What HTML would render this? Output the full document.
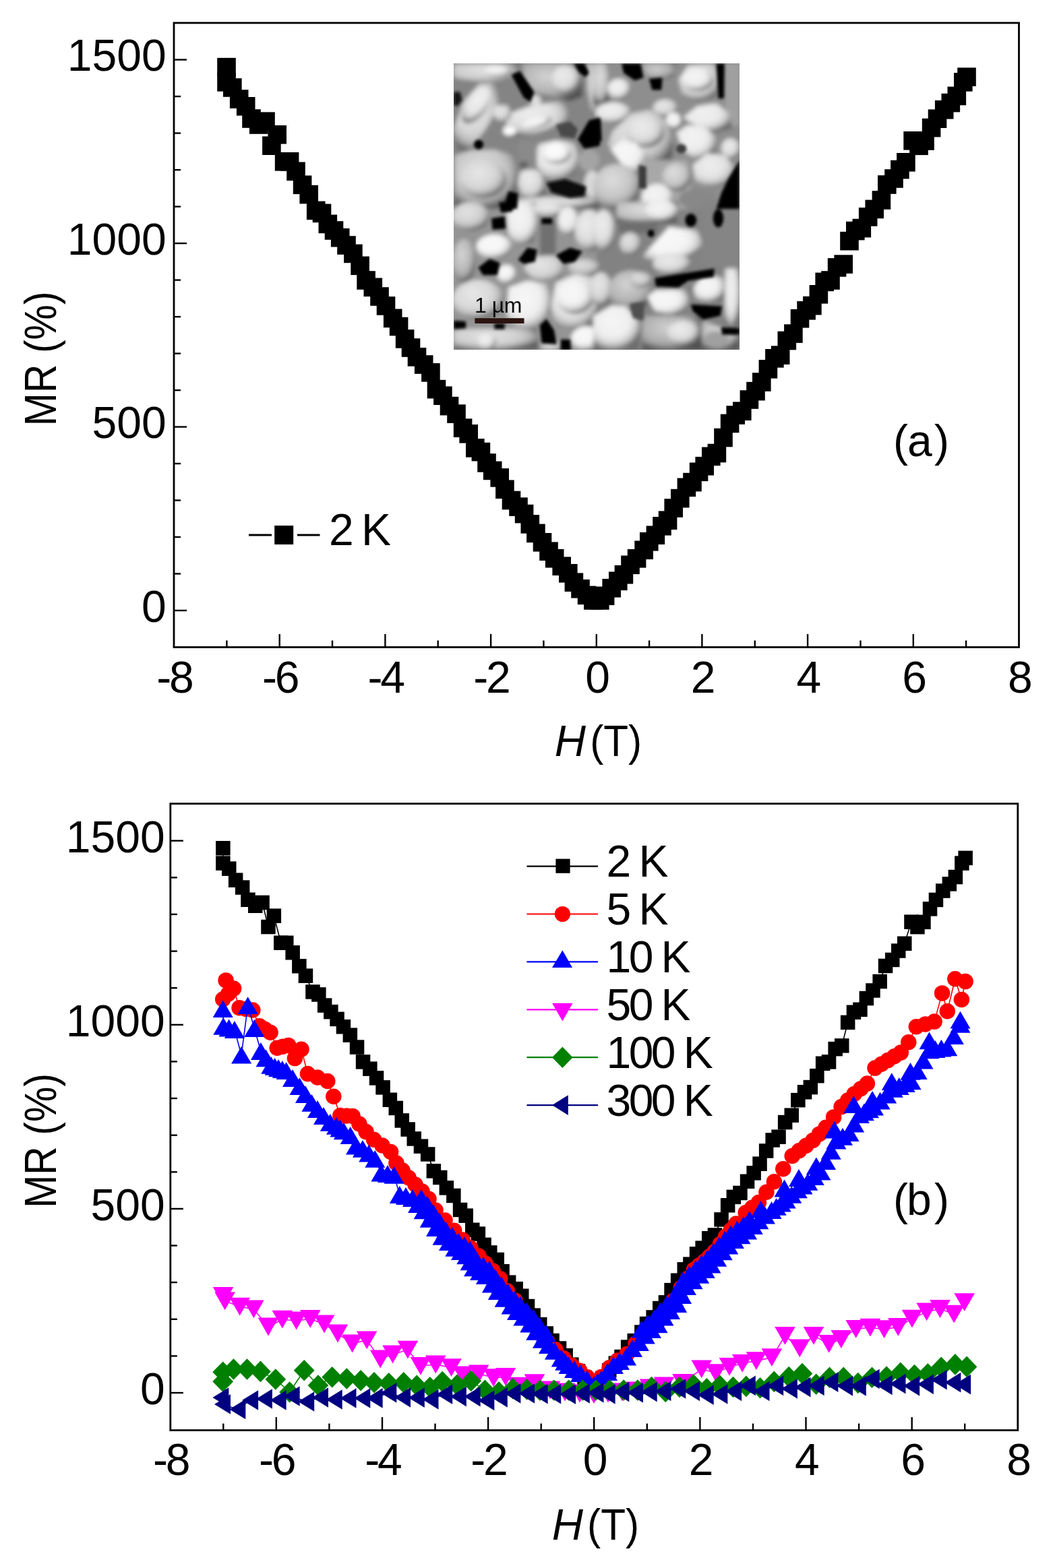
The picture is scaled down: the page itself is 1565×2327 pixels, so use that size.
<!DOCTYPE html>
<html><head><meta charset="utf-8"><title>MR figure</title>
<style>html,body{margin:0;padding:0;background:#fff;overflow:hidden}svg{display:block}</style>
</head><body>
<svg width="1565" height="2327" viewBox="0 0 1565 2327"><rect width="1565" height="2327" fill="#fff"/><g stroke="#000" stroke-width="2.4"><line x1="258" y1="906" x2="277" y2="906"/><line x1="258" y1="851.5" x2="268" y2="851.5"/><line x1="258" y1="797" x2="268" y2="797"/><line x1="258" y1="742.5" x2="268" y2="742.5"/><line x1="258" y1="688" x2="268" y2="688"/><line x1="258" y1="633.5" x2="277" y2="633.5"/><line x1="258" y1="579.1" x2="268" y2="579.1"/><line x1="258" y1="524.6" x2="268" y2="524.6"/><line x1="258" y1="470.1" x2="268" y2="470.1"/><line x1="258" y1="415.6" x2="268" y2="415.6"/><line x1="258" y1="361.1" x2="277" y2="361.1"/><line x1="258" y1="306.6" x2="268" y2="306.6"/><line x1="258" y1="252.1" x2="268" y2="252.1"/><line x1="258" y1="197.6" x2="268" y2="197.6"/><line x1="258" y1="143.1" x2="268" y2="143.1"/><line x1="258" y1="88.6" x2="277" y2="88.6"/><line x1="336.4" y1="960.5" x2="336.4" y2="950.5"/><line x1="414.7" y1="960.5" x2="414.7" y2="941"/><line x1="493" y1="960.5" x2="493" y2="950.5"/><line x1="571.4" y1="960.5" x2="571.4" y2="941"/><line x1="649.7" y1="960.5" x2="649.7" y2="950.5"/><line x1="728.1" y1="960.5" x2="728.1" y2="941"/><line x1="806.4" y1="960.5" x2="806.4" y2="950.5"/><line x1="884.8" y1="960.5" x2="884.8" y2="941"/><line x1="963.1" y1="960.5" x2="963.1" y2="950.5"/><line x1="1041.4" y1="960.5" x2="1041.4" y2="941"/><line x1="1119.8" y1="960.5" x2="1119.8" y2="950.5"/><line x1="1198.1" y1="960.5" x2="1198.1" y2="941"/><line x1="1276.5" y1="960.5" x2="1276.5" y2="950.5"/><line x1="1354.8" y1="960.5" x2="1354.8" y2="941"/><line x1="1433.1" y1="960.5" x2="1433.1" y2="950.5"/></g><rect x="258" y="34" width="1253.5" height="926.5" fill="none" stroke="#000" stroke-width="2.8"/><g font-size="66" fill="#000" style="font-family:'Liberation Sans',Arial,Helvetica,sans-serif"><text x="246.6" y="922.8" text-anchor="end">0</text><text x="246.6" y="650.3" text-anchor="end">500</text><text x="246.6" y="377.9" text-anchor="end">1000</text><text x="246.6" y="105.4" text-anchor="end">1500</text><text x="269.3" y="1027.5" text-anchor="middle">8</text><text x="254.2" y="1027.5" text-anchor="end">-</text><text x="426" y="1027.5" text-anchor="middle">6</text><text x="410.9" y="1027.5" text-anchor="end">-</text><text x="582.7" y="1027.5" text-anchor="middle">4</text><text x="567.6" y="1027.5" text-anchor="end">-</text><text x="739.4" y="1027.5" text-anchor="middle">2</text><text x="724.3" y="1027.5" text-anchor="end">-</text><text x="886.5" y="1027.5" text-anchor="middle">0</text><text x="1043.2" y="1027.5" text-anchor="middle">2</text><text x="1199.9" y="1027.5" text-anchor="middle">4</text><text x="1356.6" y="1027.5" text-anchor="middle">6</text><text x="1513.3" y="1027.5" text-anchor="middle">8</text></g><g fill="#000"><rect x="322.2" y="85.9" width="27.6" height="27.6"/><rect x="322.2" y="108.1" width="27.6" height="27.6"/><rect x="331" y="116.2" width="27.6" height="27.6"/><rect x="340.9" y="133.2" width="27.6" height="27.6"/><rect x="350.9" y="144" width="27.6" height="27.6"/><rect x="359.2" y="162.2" width="27.6" height="27.6"/><rect x="369.9" y="171.2" width="27.6" height="27.6"/><rect x="380.2" y="166.4" width="27.6" height="27.6"/><rect x="389.1" y="202.4" width="27.6" height="27.6"/><rect x="397.4" y="186" width="27.6" height="27.6"/><rect x="407.8" y="226" width="27.6" height="27.6"/><rect x="415.8" y="226" width="27.6" height="27.6"/><rect x="425.2" y="240.5" width="27.6" height="27.6"/><rect x="434.8" y="260.5" width="27.6" height="27.6"/><rect x="444.4" y="274.8" width="27.6" height="27.6"/><rect x="454.9" y="298.6" width="27.6" height="27.6"/><rect x="463.7" y="302.6" width="27.6" height="27.6"/><rect x="472.5" y="318.6" width="27.6" height="27.6"/><rect x="481.7" y="328.2" width="27.6" height="27.6"/><rect x="490.9" y="338.9" width="27.6" height="27.6"/><rect x="500.2" y="350.2" width="27.6" height="27.6"/><rect x="510.1" y="362.6" width="27.6" height="27.6"/><rect x="520.3" y="380.5" width="27.6" height="27.6"/><rect x="529.3" y="402.2" width="27.6" height="27.6"/><rect x="539.5" y="412.5" width="27.6" height="27.6"/><rect x="549.2" y="426.2" width="27.6" height="27.6"/><rect x="558.7" y="440.1" width="27.6" height="27.6"/><rect x="568.9" y="458.5" width="27.6" height="27.6"/><rect x="577.8" y="470.7" width="27.6" height="27.6"/><rect x="586.8" y="489.1" width="27.6" height="27.6"/><rect x="595.7" y="502.2" width="27.6" height="27.6"/><rect x="604.7" y="516" width="27.6" height="27.6"/><rect x="614.9" y="527.2" width="27.6" height="27.6"/><rect x="625.1" y="539" width="27.6" height="27.6"/><rect x="633.7" y="563.8" width="27.6" height="27.6"/><rect x="643.1" y="573.4" width="27.6" height="27.6"/><rect x="652.7" y="588.8" width="27.6" height="27.6"/><rect x="663.2" y="600.3" width="27.6" height="27.6"/><rect x="672.8" y="621.3" width="27.6" height="27.6"/><rect x="681.4" y="630" width="27.6" height="27.6"/><rect x="691" y="651" width="27.6" height="27.6"/><rect x="699.6" y="656.8" width="27.6" height="27.6"/><rect x="708.2" y="673.1" width="27.6" height="27.6"/><rect x="716.9" y="684.6" width="27.6" height="27.6"/><rect x="727.4" y="695.1" width="27.6" height="27.6"/><rect x="735.1" y="712.4" width="27.6" height="27.6"/><rect x="744.7" y="728.7" width="27.6" height="27.6"/><rect x="755.2" y="738.3" width="27.6" height="27.6"/><rect x="763.8" y="748.8" width="27.6" height="27.6"/><rect x="772.5" y="764.1" width="27.6" height="27.6"/><rect x="781.1" y="777.6" width="27.6" height="27.6"/><rect x="790.7" y="791" width="27.6" height="27.6"/><rect x="800.2" y="804.4" width="27.6" height="27.6"/><rect x="808.9" y="814.9" width="27.6" height="27.6"/><rect x="819.4" y="826.4" width="27.6" height="27.6"/><rect x="829" y="837" width="27.6" height="27.6"/><rect x="837.6" y="850.4" width="27.6" height="27.6"/><rect x="847.2" y="860" width="27.6" height="27.6"/><rect x="856.8" y="869.6" width="27.6" height="27.6"/><rect x="866" y="877.2" width="27.6" height="27.6"/><rect x="876" y="877.2" width="27.6" height="27.6"/><rect x="883.8" y="870.5" width="27.6" height="27.6"/><rect x="893.4" y="859" width="27.6" height="27.6"/><rect x="903" y="848.5" width="27.6" height="27.6"/><rect x="911.6" y="838.9" width="27.6" height="27.6"/><rect x="921.2" y="824.5" width="27.6" height="27.6"/><rect x="930.8" y="815" width="27.6" height="27.6"/><rect x="941.3" y="802.5" width="27.6" height="27.6"/><rect x="949" y="790" width="27.6" height="27.6"/><rect x="958.6" y="780.4" width="27.6" height="27.6"/><rect x="968.2" y="767" width="27.6" height="27.6"/><rect x="976.8" y="758.4" width="27.6" height="27.6"/><rect x="985.4" y="740.2" width="27.6" height="27.6"/><rect x="995" y="725.8" width="27.6" height="27.6"/><rect x="1004.6" y="709.5" width="27.6" height="27.6"/><rect x="1013.2" y="701.8" width="27.6" height="27.6"/><rect x="1022.8" y="686.5" width="27.6" height="27.6"/><rect x="1031.4" y="677.9" width="27.6" height="27.6"/><rect x="1041" y="663.5" width="27.6" height="27.6"/><rect x="1049.6" y="658.7" width="27.6" height="27.6"/><rect x="1059.2" y="635.7" width="27.6" height="27.6"/><rect x="1068.8" y="614.6" width="27.6" height="27.6"/><rect x="1077.4" y="602.2" width="27.6" height="27.6"/><rect x="1087" y="596.4" width="27.6" height="27.6"/><rect x="1097.6" y="579.2" width="27.6" height="27.6"/><rect x="1107.2" y="566.8" width="27.6" height="27.6"/><rect x="1116" y="553.2" width="27.6" height="27.6"/><rect x="1125.6" y="534" width="27.6" height="27.6"/><rect x="1135.1" y="518" width="27.6" height="27.6"/><rect x="1143.9" y="513.3" width="27.6" height="27.6"/><rect x="1153.5" y="491.7" width="27.6" height="27.6"/><rect x="1163.1" y="481.3" width="27.6" height="27.6"/><rect x="1172.7" y="458.9" width="27.6" height="27.6"/><rect x="1182.3" y="447" width="27.6" height="27.6"/><rect x="1191.1" y="439.8" width="27.6" height="27.6"/><rect x="1200.6" y="423" width="27.6" height="27.6"/><rect x="1209.4" y="404.6" width="27.6" height="27.6"/><rect x="1218.2" y="402.2" width="27.6" height="27.6"/><rect x="1227.8" y="383.1" width="27.6" height="27.6"/><rect x="1237.4" y="378.3" width="27.6" height="27.6"/><rect x="1246.2" y="343.9" width="27.6" height="27.6"/><rect x="1255" y="328.8" width="27.6" height="27.6"/><rect x="1264.5" y="324.8" width="27.6" height="27.6"/><rect x="1273.9" y="308.1" width="27.6" height="27.6"/><rect x="1283.4" y="296.6" width="27.6" height="27.6"/><rect x="1293.6" y="283.2" width="27.6" height="27.6"/><rect x="1302" y="260.2" width="27.6" height="27.6"/><rect x="1312.2" y="251.2" width="27.6" height="27.6"/><rect x="1321.1" y="237.8" width="27.6" height="27.6"/><rect x="1330.1" y="227" width="27.6" height="27.6"/><rect x="1340.3" y="195" width="27.6" height="27.6"/><rect x="1349.2" y="202.5" width="27.6" height="27.6"/><rect x="1358.2" y="195.2" width="27.6" height="27.6"/><rect x="1367.8" y="175.8" width="27.6" height="27.6"/><rect x="1376.7" y="162.4" width="27.6" height="27.6"/><rect x="1386.9" y="149" width="27.6" height="27.6"/><rect x="1396.5" y="138.8" width="27.6" height="27.6"/><rect x="1405.5" y="128.6" width="27.6" height="27.6"/><rect x="1415" y="108.1" width="27.6" height="27.6"/><rect x="1420.2" y="100.4" width="27.6" height="27.6"/></g><defs><clipPath id="ic"><rect x="0" y="0" width="424" height="425"/></clipPath><filter id="ib" x="-5%" y="-5%" width="110%" height="110%"><feGaussianBlur stdDeviation="3.1"/></filter><radialGradient id="sh" cx="0.40" cy="0.35" r="0.65"><stop offset="0" stop-color="#fff" stop-opacity="0.40"/><stop offset="0.5" stop-color="#fff" stop-opacity="0.06"/><stop offset="0.8" stop-color="#000" stop-opacity="0.16"/><stop offset="1" stop-color="#000" stop-opacity="0.55"/></radialGradient><filter id="ib2" x="-5%" y="-5%" width="110%" height="110%"><feGaussianBlur stdDeviation="2.232"/></filter></defs><g transform="translate(673,94)"><g clip-path="url(#ic)"><g filter="url(#ib)"><rect x="-10" y="-10" width="444" height="445" fill="#a2a2a2"/><rect x="-10" y="-10" width="222" height="222" fill="#848484"/><rect x="212" y="-10" width="222" height="222" fill="#8e8e8e"/><rect x="-10" y="212" width="222" height="223" fill="#949494"/><rect x="212" y="212" width="222" height="223" fill="#828282"/><polygon fill="#cdcdcd" points="-0.2,0.2 98.2,0.2 89.8,17.1 67.3,25.5 25.1,29.7 -0.2,25.5"/><polygon fill="url(#sh)" points="-0.2,0.2 98.2,0.2 89.8,17.1 67.3,25.5 25.1,29.7 -0.2,25.5"/><ellipse cx="64.5" cy="11.5" rx="21.1" ry="8.4" fill="#ececec"/><ellipse cx="64.5" cy="11.5" rx="21.1" ry="8.4" fill="url(#sh)"/><polygon fill="#d6d6d6" points="5.4,126.7 -0.2,97.2 15.3,56.4 37.8,31.1 56,28.3 68.7,42.4 64.5,69.1 47.6,97.2 32.1,118.3 18.1,130.9"/><polygon fill="url(#sh)" points="5.4,126.7 -0.2,97.2 15.3,56.4 37.8,31.1 56,28.3 68.7,42.4 64.5,69.1 47.6,97.2 32.1,118.3 18.1,130.9"/><ellipse cx="33.5" cy="62.1" rx="15.5" ry="30.9" fill="#e6e6e6" transform="rotate(35 33.5 62.1)"/><ellipse cx="33.5" cy="62.1" rx="15.5" ry="30.9" fill="url(#sh)" transform="rotate(35 33.5 62.1)"/><polygon fill="#b4b4b4" points="101,0.2 176.9,0.2 191,24.1 191,49.4 172.7,56.4 137.6,46.6 117.9,42.4 105.2,24.1"/><polygon fill="url(#sh)" points="101,0.2 176.9,0.2 191,24.1 191,49.4 172.7,56.4 137.6,46.6 117.9,42.4 105.2,24.1"/><ellipse cx="165.7" cy="24.1" rx="21.1" ry="21.1" fill="#dedede"/><ellipse cx="165.7" cy="24.1" rx="21.1" ry="21.1" fill="url(#sh)"/><polygon fill="#bebebe" points="196.6,0.2 217,0.2 217,80.3 205,76.1 198,38.2"/><polygon fill="url(#sh)" points="196.6,0.2 217,0.2 217,80.3 205,76.1 198,38.2"/><polygon fill="#e0e0e0" points="75.7,95.8 81.3,74.7 116.5,62.1 158.7,56.4 171.3,63.5 165.7,84.6 137.6,98.6 109.5,108.5 81.3,108.5"/><polygon fill="url(#sh)" points="75.7,95.8 81.3,74.7 116.5,62.1 158.7,56.4 171.3,63.5 165.7,84.6 137.6,98.6 109.5,108.5 81.3,108.5"/><ellipse cx="82.7" cy="100" rx="9.8" ry="7" fill="#fbfbfb"/><ellipse cx="123.5" cy="87.4" rx="22.5" ry="8.4" fill="#f0f0f0" transform="rotate(-15 123.5 87.4)"/><ellipse cx="123.5" cy="87.4" rx="22.5" ry="8.4" fill="url(#sh)" transform="rotate(-15 123.5 87.4)"/><ellipse cx="121.4" cy="55" rx="8.4" ry="7.7" fill="#dcdcdc"/><polygon fill="#d6d6d6" points="60.3,62.1 81.3,62.1 85.6,80.3 67.3,87.4 57.4,74.7"/><polygon fill="url(#sh)" points="60.3,62.1 81.3,62.1 85.6,80.3 67.3,87.4 57.4,74.7"/><polygon fill="#e4e4e4" points="120.7,136.6 126.3,119.7 151.6,114.1 179.7,118.3 186.8,136.6 179.7,164.7 158.7,174.5 134.8,168.9 123.5,153.4"/><polygon fill="url(#sh)" points="120.7,136.6 126.3,119.7 151.6,114.1 179.7,118.3 186.8,136.6 179.7,164.7 158.7,174.5 134.8,168.9 123.5,153.4"/><ellipse cx="153" cy="133.8" rx="21.1" ry="15.5" fill="#f8f8f8"/><ellipse cx="153" cy="133.8" rx="21.1" ry="15.5" fill="url(#sh)"/><polygon fill="#c9c9c9" points="1.2,136.6 25.1,129.5 60.3,128.1 88.4,136.6 95.4,157.7 92.6,190 75.7,216 1.2,216"/><polygon fill="url(#sh)" points="1.2,136.6 25.1,129.5 60.3,128.1 88.4,136.6 95.4,157.7 92.6,190 75.7,216 1.2,216"/><ellipse cx="43.4" cy="171.7" rx="35.1" ry="28.1" fill="#d6d6d6"/><ellipse cx="43.4" cy="171.7" rx="35.1" ry="28.1" fill="url(#sh)"/><polygon fill="#dcdcdc" points="98.2,161.9 116.5,153.4 130.5,164.7 136.2,192.8 123.5,202.6 102.4,201.2 95.4,178.7"/><polygon fill="url(#sh)" points="98.2,161.9 116.5,153.4 130.5,164.7 136.2,192.8 123.5,202.6 102.4,201.2 95.4,178.7"/><polygon fill="#8a8a8a" points="95.4,115.5 123.5,115.5 123.5,157.7 95.4,157.7"/><ellipse cx="103.8" cy="150.6" rx="7" ry="5.6" fill="#606060"/><ellipse cx="205" cy="178.7" rx="11.2" ry="19.7" fill="#d8d8d8"/><polygon fill="#d6d6d6" points="95.4,201.2 137.6,198.4 193.8,201.2 217,192.8 217,216 95.4,216"/><polygon fill="url(#sh)" points="95.4,201.2 137.6,198.4 193.8,201.2 217,192.8 217,216 95.4,216"/><ellipse cx="200.8" cy="143.6" rx="15.5" ry="16.9" fill="#a4a4a4"/><polygon fill="#b0b0b0" points="280.1,0.2 330.7,0.2 325.1,19.9 305.4,24.1 285.7,17.1"/><polygon fill="url(#sh)" points="280.1,0.2 330.7,0.2 325.1,19.9 305.4,24.1 285.7,17.1"/><polygon fill="#c6c6c6" points="207,0.2 229.5,0.2 230.9,59.3 207,60.7"/><polygon fill="url(#sh)" points="207,0.2 229.5,0.2 230.9,59.3 207,60.7"/><ellipse cx="245" cy="38.2" rx="16.9" ry="15.5" fill="#e8e8e8"/><ellipse cx="245" cy="38.2" rx="16.9" ry="15.5" fill="url(#sh)"/><ellipse cx="236.5" cy="73.3" rx="26.7" ry="15.5" fill="#e6e6e6"/><ellipse cx="236.5" cy="73.3" rx="26.7" ry="15.5" fill="url(#sh)"/><polygon fill="#d2d2d2" points="228.1,122.5 235.1,101.4 263.2,74.7 291.3,69.1 316.6,86 326.5,122.5 322.3,150.6 298.4,157.7 270.3,143.6 249.2,129.5"/><polygon fill="url(#sh)" points="228.1,122.5 235.1,101.4 263.2,74.7 291.3,69.1 316.6,86 326.5,122.5 322.3,150.6 298.4,157.7 270.3,143.6 249.2,129.5"/><ellipse cx="284.3" cy="101.4" rx="28.1" ry="23.9" fill="#dedede"/><ellipse cx="284.3" cy="101.4" rx="28.1" ry="23.9" fill="url(#sh)"/><polygon fill="#f2f2f2" points="232.3,126.7 249.2,114.1 270.3,118.3 287.1,136.6 285.7,157.7 270.3,166.1 249.2,149.2"/><polygon fill="url(#sh)" points="232.3,126.7 249.2,114.1 270.3,118.3 287.1,136.6 285.7,157.7 270.3,166.1 249.2,149.2"/><polygon fill="#dadada" points="333.5,24.1 347.6,3 389.7,0.2 396.8,24.1 389.7,49.4 361.6,56.4 340.5,52.2"/><polygon fill="url(#sh)" points="333.5,24.1 347.6,3 389.7,0.2 396.8,24.1 389.7,49.4 361.6,56.4 340.5,52.2"/><ellipse cx="361.6" cy="24.1" rx="23.9" ry="16.9" fill="#eeeeee"/><ellipse cx="361.6" cy="24.1" rx="23.9" ry="16.9" fill="url(#sh)"/><polygon fill="#a0a0a0" points="401.7,0.2 424.2,0.2 424.2,94.4 403.8,87.4"/><ellipse cx="313.8" cy="66.3" rx="18.3" ry="12.7" fill="#d8d8d8"/><ellipse cx="313.8" cy="66.3" rx="18.3" ry="12.7" fill="url(#sh)"/><ellipse cx="325.8" cy="83.2" rx="10.5" ry="10.5" fill="#f2f2f2"/><polygon fill="#e8e8e8" points="340.5,80.3 361.6,63.5 389.7,59.3 409.4,74.7 412.2,97.2 389.7,102.8 361.6,94.4"/><polygon fill="url(#sh)" points="340.5,80.3 361.6,63.5 389.7,59.3 409.4,74.7 412.2,97.2 389.7,102.8 361.6,94.4"/><polygon fill="#ececec" points="330.7,102.8 347.6,91.6 372.9,94.4 389.7,111.3 386.9,136.6 361.6,143.6 340.5,129.5"/><polygon fill="url(#sh)" points="330.7,102.8 347.6,91.6 372.9,94.4 389.7,111.3 386.9,136.6 361.6,143.6 340.5,129.5"/><ellipse cx="410.8" cy="126.7" rx="14.1" ry="15.5" fill="#dddddd"/><ellipse cx="410.8" cy="126.7" rx="14.1" ry="15.5" fill="url(#sh)"/><polygon fill="#e2e2e2" points="354.6,150.6 375.7,133.8 403.8,136.6 417.9,157.7 415,178.7 382.7,184.4 358.8,178.7"/><polygon fill="url(#sh)" points="354.6,150.6 375.7,133.8 403.8,136.6 417.9,157.7 415,178.7 382.7,184.4 358.8,178.7"/><polygon fill="#a8a8a8" points="277.3,143.6 347.6,143.6 354.6,216 277.3,216"/><ellipse cx="242.1" cy="183" rx="35.1" ry="33.7" fill="#c6c6c6"/><ellipse cx="242.1" cy="183" rx="35.1" ry="33.7" fill="url(#sh)"/><ellipse cx="302.6" cy="199.8" rx="23.9" ry="21.1" fill="#ededed"/><ellipse cx="302.6" cy="199.8" rx="23.9" ry="21.1" fill="url(#sh)"/><ellipse cx="361.6" cy="201.2" rx="28.1" ry="15.5" fill="#888888"/><ellipse cx="330.7" cy="168.9" rx="21.1" ry="21.1" fill="#c8c8c8"/><ellipse cx="330.7" cy="168.9" rx="21.1" ry="21.1" fill="url(#sh)"/><ellipse cx="25.1" cy="227.1" rx="28.1" ry="21.1" fill="#d0d0d0"/><ellipse cx="25.1" cy="227.1" rx="28.1" ry="21.1" fill="url(#sh)"/><polygon fill="#ededed" points="78.5,220.1 95.4,206 122.1,206 124.9,241.1 117.9,266.4 95.4,270.7 81.3,255.2"/><polygon fill="url(#sh)" points="78.5,220.1 95.4,206 122.1,206 124.9,241.1 117.9,266.4 95.4,270.7 81.3,255.2"/><ellipse cx="60.3" cy="272.1" rx="26.7" ry="18.3" fill="#f5f5f5"/><ellipse cx="60.3" cy="272.1" rx="26.7" ry="18.3" fill="url(#sh)"/><polygon fill="#707070" points="127.7,229.9 151.6,229.9 151.6,284.7 127.7,284.7"/><ellipse cx="141.8" cy="215.8" rx="25.3" ry="11.2" fill="#dcdcdc"/><ellipse cx="141.8" cy="215.8" rx="25.3" ry="11.2" fill="url(#sh)"/><ellipse cx="169.9" cy="234.1" rx="15.5" ry="21.1" fill="#ebebeb"/><ellipse cx="169.9" cy="234.1" rx="15.5" ry="21.1" fill="url(#sh)"/><ellipse cx="200.8" cy="248.2" rx="21.1" ry="30.9" fill="#dedede"/><ellipse cx="200.8" cy="248.2" rx="21.1" ry="30.9" fill="url(#sh)"/><ellipse cx="15.3" cy="293.2" rx="16.9" ry="32.3" fill="#b8b8b8"/><ellipse cx="15.3" cy="293.2" rx="16.9" ry="32.3" fill="url(#sh)"/><ellipse cx="78.5" cy="312.8" rx="14.1" ry="14.1" fill="#f2f2f2"/><ellipse cx="78.5" cy="312.8" rx="14.1" ry="14.1" fill="url(#sh)"/><polygon fill="#d4d4d4" points="103.8,304.4 116.5,287.5 151.6,284.7 165.7,296 158.7,318.5 123.5,325.5"/><polygon fill="url(#sh)" points="103.8,304.4 116.5,287.5 151.6,284.7 165.7,296 158.7,318.5 123.5,325.5"/><ellipse cx="193.8" cy="303" rx="23.9" ry="12.7" fill="#c8c8c8"/><ellipse cx="193.8" cy="303" rx="23.9" ry="12.7" fill="url(#sh)"/><ellipse cx="36.4" cy="350.8" rx="38" ry="29.5" fill="#d8d8d8"/><ellipse cx="36.4" cy="350.8" rx="38" ry="29.5" fill="url(#sh)"/><polygon fill="#f0f0f0" points="81.3,332.5 109.5,322.7 137.6,326.9 144.6,346.6 130.5,388.7 95.4,397.2 78.5,374.7"/><polygon fill="url(#sh)" points="81.3,332.5 109.5,322.7 137.6,326.9 144.6,346.6 130.5,388.7 95.4,397.2 78.5,374.7"/><polygon fill="#e6e6e6" points="144.6,360.6 151.6,325.5 179.7,312.8 217,318.5 217,388.7 179.7,397.2 151.6,388.7"/><polygon fill="url(#sh)" points="144.6,360.6 151.6,325.5 179.7,312.8 217,318.5 217,388.7 179.7,397.2 151.6,388.7"/><ellipse cx="179.7" cy="346.6" rx="28.1" ry="25.3" fill="#f2f2f2"/><ellipse cx="179.7" cy="346.6" rx="28.1" ry="25.3" fill="url(#sh)"/><polygon fill="#d0d0d0" points="-0.2,394.4 123.5,393 126.3,426 -0.2,426"/><polygon fill="url(#sh)" points="-0.2,394.4 123.5,393 126.3,426 -0.2,426"/><ellipse cx="49" cy="412.6" rx="14.1" ry="12.7" fill="#e6e6e6"/><ellipse cx="49" cy="412.6" rx="14.1" ry="12.7" fill="url(#sh)"/><ellipse cx="196.6" cy="408.4" rx="22.5" ry="18.3" fill="#f4f4f4"/><ellipse cx="196.6" cy="408.4" rx="22.5" ry="18.3" fill="url(#sh)"/><ellipse cx="146" cy="419.7" rx="16.9" ry="8.4" fill="#c8c8c8"/><ellipse cx="146" cy="419.7" rx="16.9" ry="8.4" fill="url(#sh)"/><ellipse cx="222.5" cy="248.2" rx="16.9" ry="30.9" fill="#e0e0e0"/><ellipse cx="222.5" cy="248.2" rx="16.9" ry="30.9" fill="url(#sh)"/><polygon fill="#c4c4c4" points="242.1,206 333.5,206 330.7,236.9 242.1,236.9"/><polygon fill="url(#sh)" points="242.1,206 333.5,206 330.7,236.9 242.1,236.9"/><ellipse cx="308.2" cy="218.7" rx="25.3" ry="15.5" fill="#ececec"/><ellipse cx="308.2" cy="218.7" rx="25.3" ry="15.5" fill="url(#sh)"/><polygon fill="#6e6e6e" points="245,234.1 302.6,234.1 302.6,252.4 245,252.4"/><ellipse cx="261.8" cy="267.8" rx="15.5" ry="16.9" fill="#cfcfcf"/><ellipse cx="261.8" cy="267.8" rx="15.5" ry="16.9" fill="url(#sh)"/><polygon fill="#f4f4f4" points="277.3,290.3 291.3,273.5 319.5,242.5 361.6,248.2 370.1,269.3 347.6,283.3 305.4,297.4"/><polygon fill="url(#sh)" points="277.3,290.3 291.3,273.5 319.5,242.5 361.6,248.2 370.1,269.3 347.6,283.3 305.4,297.4"/><polygon fill="#858585" points="368.7,206 424.2,206 424.2,304.4 368.7,297.4"/><ellipse cx="323.7" cy="297.4" rx="28.1" ry="15.5" fill="#dcdcdc"/><ellipse cx="323.7" cy="297.4" rx="28.1" ry="15.5" fill="url(#sh)"/><ellipse cx="218.2" cy="335.3" rx="16.9" ry="25.3" fill="#d6d6d6"/><ellipse cx="218.2" cy="335.3" rx="16.9" ry="25.3" fill="url(#sh)"/><ellipse cx="263.2" cy="336.7" rx="33.7" ry="29.5" fill="#b6b6b6"/><ellipse cx="263.2" cy="336.7" rx="33.7" ry="29.5" fill="url(#sh)"/><ellipse cx="277.3" cy="321.3" rx="16.9" ry="11.2" fill="#cacaca"/><ellipse cx="277.3" cy="321.3" rx="16.9" ry="11.2" fill="url(#sh)"/><polygon fill="#f2f2f2" points="287.1,346.6 298.4,336.7 347.6,335.3 349,360.6 333.5,374.7 298.4,367.7"/><polygon fill="url(#sh)" points="287.1,346.6 298.4,336.7 347.6,335.3 349,360.6 333.5,374.7 298.4,367.7"/><polygon fill="#f0f0f0" points="356,332.5 368.7,315.6 401,317 402.4,346.6 389.7,355 358.8,350.8"/><polygon fill="url(#sh)" points="356,332.5 368.7,315.6 401,317 402.4,346.6 389.7,355 358.8,350.8"/><polygon fill="#e6e6e6" points="402.4,304.4 424.2,304.4 424.2,393 402.4,388.7"/><polygon fill="url(#sh)" points="402.4,304.4 424.2,304.4 424.2,393 402.4,388.7"/><polygon fill="#efefef" points="207,374.7 235.1,359.2 256.2,360.6 277.3,388.7 274.5,426 207,426"/><polygon fill="url(#sh)" points="207,374.7 235.1,359.2 256.2,360.6 277.3,388.7 274.5,426 207,426"/><polygon fill="#b0b0b0" points="280.1,374.7 368.7,374.7 368.7,426 280.1,426"/><polygon fill="url(#sh)" points="280.1,374.7 368.7,374.7 368.7,426 280.1,426"/><ellipse cx="340.5" cy="400" rx="23.9" ry="18.3" fill="#dedede"/><ellipse cx="340.5" cy="400" rx="23.9" ry="18.3" fill="url(#sh)"/><polygon fill="#bebebe" points="368.7,381.7 424.2,402.8 424.2,426 368.7,426"/><polygon fill="url(#sh)" points="368.7,381.7 424.2,402.8 424.2,426 368.7,426"/><ellipse cx="389.7" cy="409.8" rx="18.3" ry="12.7" fill="#a0a0a0"/></g><g filter="url(#ib2)"><polygon fill="#151515" points="-0.2,42.4 9.7,42.4 12.5,55 5.4,63.5 -0.2,62.1"/><polygon fill="#050505" points="85.6,17.1 98.2,11.5 119.3,42.4 113.7,57.8 103.8,50.8"/><polygon fill="#000" points="178.3,0.2 193.8,0.2 200.8,14.3 195.2,20.6 186.1,13.6"/><ellipse cx="37.1" cy="120.4" rx="7" ry="7" fill="#000"/><polygon fill="#4a4a4a" points="151.6,91.6 172.7,86 184,97.2 179.7,111.3 158.7,108.5"/><polygon fill="#050505" points="184,112.7 200.8,84.6 217,80.3 217,122.5 193.8,126.7"/><polygon fill="#080808" points="137.6,177.3 165.7,171.7 196.6,183 193.8,197 172.7,199.8 144.6,191.4"/><polygon fill="#000" points="81.3,190 95.4,192.8 94,216 72.9,216"/><polygon fill="#000" points="249.2,0.2 277.3,0.2 281.5,21.3 268.8,25.5 252,14.3"/><polygon fill="#000" points="289.9,22.7 309.6,21.3 308.2,39.6 294.2,39.6"/><polygon fill="#000" points="207,83.2 218.2,83.2 219.7,115.5 207,116.9"/><polygon fill="#000" points="389.7,0.2 401.7,0.2 401,52.2 392.5,52.2"/><ellipse cx="337.7" cy="126.7" rx="7.7" ry="7" fill="#404040"/><polygon fill="#000" points="408,170.3 424.2,143.6 424.2,216 389.7,216 396.8,192.8"/><polygon fill="#3a3a3a" points="274.5,150.6 285.7,153.4 285.7,185.8 274.5,185.8"/><polygon fill="#000" points="56,229.9 75.7,227.1 77.1,245.4 57.4,246.8"/><polygon fill="#000" points="67.3,206 89.8,206 87,220.1 70.1,221.5"/><polygon fill="#000" points="36.4,303 53.2,290.3 68.7,296 64.5,314.2 43.4,314.2"/><polygon fill="#000" points="95.4,291.7 109.5,273.5 123.5,276.3 120.7,294.6 103.8,297.4"/><polygon fill="#000" points="130.5,229.9 146,229.9 146,238.3 130.5,238.3"/><polygon fill="#000" points="151.6,284.7 172.7,273.5 191,279.1 179.7,294.6 162.9,297.4"/><polygon fill="#000" points="127.7,388.7 137.6,378.9 148.8,395.8 153,416.9 130.5,415.4"/><polygon fill="#000" points="158.7,409.8 172.7,409.8 174.1,426 158.7,426"/><polygon fill="#000" points="-0.2,381.7 18.1,383.1 18.1,393 -0.2,394.4"/><polygon fill="#000" points="60.3,385.9 75.7,385.9 75.7,394.4 60.3,394.4"/><ellipse cx="292.7" cy="252.4" rx="4.9" ry="5.6" fill="#000"/><ellipse cx="351.8" cy="232.7" rx="8.4" ry="9.8" fill="#000"/><ellipse cx="392.5" cy="229.9" rx="7.7" ry="13.4" fill="#000"/><polygon fill="#000" points="298.4,318.5 333.5,312.8 386.9,304.4 385.5,317 347.6,322.7 333.5,332.5 299.8,331.1"/><polygon fill="#000" points="351.8,357.8 398.2,360.6 395.4,374.7 370.1,380.3 354.6,367.7"/><polygon fill="#000" points="396.8,391.5 424.2,393 424.2,402.8 398.2,402.8"/><polygon fill="#505050" points="261.8,356.4 282.9,353.6 281.5,381.7 266,377.5"/></g><rect x="31.4" y="378.2" width="73.1" height="7.8" fill="#2b1410"/><text x="31" y="369.8" font-size="32" letter-spacing="-0.5" style="font-family:'Liberation Sans',Arial,sans-serif" fill="#0a0a0a">1 µm</text></g></g><g stroke="#000" stroke-width="3"><line x1="369" y1="794" x2="403" y2="794"/><line x1="441" y1="794" x2="474.5" y2="794"/></g><rect x="407.2" y="780" width="28" height="28" fill="#000"/><text x="488" y="809" font-size="66" style="font-family:'Liberation Sans',Arial,Helvetica,sans-serif">2</text><text x="536" y="809" font-size="66" style="font-family:'Liberation Sans',Arial,Helvetica,sans-serif">K</text><text y="677.3" font-size="66" style="font-family:'Liberation Sans',Arial,Helvetica,sans-serif"><tspan x="1325">(</tspan><tspan x="1346">a</tspan><tspan x="1386">)</tspan></text><text transform="translate(82.6,632.2) rotate(-90) scale(0.894,1)" font-size="66" style="font-family:'Liberation Sans',Arial,Helvetica,sans-serif">MR (%)</text><text x="822.7" y="1121.9" font-size="64" style="font-family:'Liberation Sans',Arial,Helvetica,sans-serif" font-style="italic">H</text><text x="875.2" y="1121.9" font-size="64" style="font-family:'Liberation Sans',Arial,Helvetica,sans-serif" textLength="77" lengthAdjust="spacingAndGlyphs">(T)</text><g stroke="#000" stroke-width="2.4"><line x1="252.8" y1="2067" x2="271.8" y2="2067"/><line x1="252.8" y1="2012.4" x2="262.8" y2="2012.4"/><line x1="252.8" y1="1957.8" x2="262.8" y2="1957.8"/><line x1="252.8" y1="1903.1" x2="262.8" y2="1903.1"/><line x1="252.8" y1="1848.5" x2="262.8" y2="1848.5"/><line x1="252.8" y1="1793.9" x2="271.8" y2="1793.9"/><line x1="252.8" y1="1739.3" x2="262.8" y2="1739.3"/><line x1="252.8" y1="1684.7" x2="262.8" y2="1684.7"/><line x1="252.8" y1="1630" x2="262.8" y2="1630"/><line x1="252.8" y1="1575.4" x2="262.8" y2="1575.4"/><line x1="252.8" y1="1520.8" x2="271.8" y2="1520.8"/><line x1="252.8" y1="1466.2" x2="262.8" y2="1466.2"/><line x1="252.8" y1="1411.6" x2="262.8" y2="1411.6"/><line x1="252.8" y1="1356.9" x2="262.8" y2="1356.9"/><line x1="252.8" y1="1302.3" x2="262.8" y2="1302.3"/><line x1="252.8" y1="1247.7" x2="271.8" y2="1247.7"/><line x1="331.3" y1="2122.6" x2="331.3" y2="2112.6"/><line x1="409.8" y1="2122.6" x2="409.8" y2="2103.1"/><line x1="488.4" y1="2122.6" x2="488.4" y2="2112.6"/><line x1="567" y1="2122.6" x2="567" y2="2103.1"/><line x1="645.5" y1="2122.6" x2="645.5" y2="2112.6"/><line x1="724.1" y1="2122.6" x2="724.1" y2="2103.1"/><line x1="802.7" y1="2122.6" x2="802.7" y2="2112.6"/><line x1="881.2" y1="2122.6" x2="881.2" y2="2103.1"/><line x1="959.8" y1="2122.6" x2="959.8" y2="2112.6"/><line x1="1038.4" y1="2122.6" x2="1038.4" y2="2103.1"/><line x1="1117" y1="2122.6" x2="1117" y2="2112.6"/><line x1="1195.5" y1="2122.6" x2="1195.5" y2="2103.1"/><line x1="1274.1" y1="2122.6" x2="1274.1" y2="2112.6"/><line x1="1352.7" y1="2122.6" x2="1352.7" y2="2103.1"/><line x1="1431.2" y1="2122.6" x2="1431.2" y2="2112.6"/></g><rect x="252.8" y="1192.7" width="1257" height="929.9" fill="none" stroke="#000" stroke-width="2.8"/><g font-size="66" fill="#000" style="font-family:'Liberation Sans',Arial,Helvetica,sans-serif"><text x="244.6" y="2083.8" text-anchor="end">0</text><text x="244.6" y="1810.7" text-anchor="end">500</text><text x="244.6" y="1537.6" text-anchor="end">1000</text><text x="244.6" y="1264.5" text-anchor="end">1500</text><text x="264" y="2188.5" text-anchor="middle">8</text><text x="248.9" y="2188.5" text-anchor="end">-</text><text x="421.1" y="2188.5" text-anchor="middle">6</text><text x="406" y="2188.5" text-anchor="end">-</text><text x="578.3" y="2188.5" text-anchor="middle">4</text><text x="563.2" y="2188.5" text-anchor="end">-</text><text x="735.4" y="2188.5" text-anchor="middle">2</text><text x="720.3" y="2188.5" text-anchor="end">-</text><text x="883" y="2188.5" text-anchor="middle">0</text><text x="1040.2" y="2188.5" text-anchor="middle">2</text><text x="1197.3" y="2188.5" text-anchor="middle">4</text><text x="1354.5" y="2188.5" text-anchor="middle">6</text><text x="1511.6" y="2188.5" text-anchor="middle">8</text></g><polyline fill="none" stroke="#000" stroke-width="1.6" points="330.9,1258.8 330.9,1281 339.7,1289.1 349.6,1306.2 359.7,1317 368,1335.3 378.7,1344.3 389.1,1339.5 398,1375.6 406.3,1359.1 416.7,1399.2 424.8,1399.2 434.2,1413.7 443.8,1433.8 453.4,1448.1 464,1472 472.8,1476 481.6,1492 490.9,1501.7 500.1,1512.4 509.4,1523.7 519.3,1536.1 529.6,1554.1 538.6,1575.8 548.8,1586.2 558.6,1599.9 568.1,1613.8 578.3,1632.3 587.2,1644.5 596.3,1662.9 605.2,1676.1 614.2,1689.9 624.4,1701.1 634.7,1713 643.3,1737.8 652.7,1747.4 662.4,1762.9 672.9,1774.4 682.5,1795.5 691.1,1804.2 700.8,1825.2 709.4,1831 718,1847.4 726.7,1858.9 737.3,1869.4 745,1886.8 754.6,1903.1 765.2,1912.7 773.8,1923.3 782.5,1938.6 791.1,1952.1 800.8,1965.6 810.3,1979 819,1989.5 829.5,2001 839.2,2011.7 847.8,2025.1 857.4,2034.7 867.1,2044.3 876.3,2052 886.3,2052 894.1,2045.2 903.8,2033.7 913.4,2023.2 922,2013.6 931.6,1999.1 941.3,1989.6 951.8,1977.1 959.5,1964.6 969.2,1954.9 978.8,1941.5 987.4,1932.9 996,1914.6 1005.7,1900.2 1015.3,1883.9 1023.9,1876.1 1033.5,1860.8 1042.2,1852.2 1051.8,1837.8 1060.4,1832.9 1070.1,1809.9 1079.7,1788.7 1088.3,1776.3 1097.9,1770.5 1108.6,1753.3 1118.2,1740.8 1127,1727.2 1136.6,1707.9 1146.2,1691.9 1155,1687.2 1164.6,1665.5 1174.3,1655.1 1183.9,1632.7 1193.5,1620.7 1202.3,1613.5 1211.9,1596.7 1220.7,1578.2 1229.5,1575.8 1239.1,1556.7 1248.8,1551.9 1257.6,1517.4 1266.4,1502.3 1276,1498.2 1285.4,1481.5 1294.9,1470 1305.1,1456.5 1313.6,1433.5 1323.8,1424.5 1332.7,1411 1341.7,1400.2 1352,1368.1 1360.9,1375.7 1369.9,1368.3 1379.6,1348.9 1388.5,1335.5 1398.7,1322 1408.3,1311.8 1417.4,1301.6 1426.9,1281 1432.1,1273.3"/><g fill="#000"><rect x="320.1" y="1248" width="21.5" height="21.5"/><rect x="320.1" y="1270.3" width="21.5" height="21.5"/><rect x="329" y="1278.4" width="21.5" height="21.5"/><rect x="338.9" y="1295.4" width="21.5" height="21.5"/><rect x="348.9" y="1306.3" width="21.5" height="21.5"/><rect x="357.2" y="1324.5" width="21.5" height="21.5"/><rect x="368" y="1333.5" width="21.5" height="21.5"/><rect x="378.3" y="1328.7" width="21.5" height="21.5"/><rect x="387.2" y="1364.8" width="21.5" height="21.5"/><rect x="395.6" y="1348.4" width="21.5" height="21.5"/><rect x="406" y="1388.5" width="21.5" height="21.5"/><rect x="414" y="1388.5" width="21.5" height="21.5"/><rect x="423.4" y="1403" width="21.5" height="21.5"/><rect x="433.1" y="1423" width="21.5" height="21.5"/><rect x="442.7" y="1437.4" width="21.5" height="21.5"/><rect x="453.2" y="1461.2" width="21.5" height="21.5"/><rect x="462.1" y="1465.2" width="21.5" height="21.5"/><rect x="470.9" y="1481.3" width="21.5" height="21.5"/><rect x="480.1" y="1490.9" width="21.5" height="21.5"/><rect x="489.3" y="1501.6" width="21.5" height="21.5"/><rect x="498.7" y="1513" width="21.5" height="21.5"/><rect x="508.6" y="1525.4" width="21.5" height="21.5"/><rect x="518.8" y="1543.3" width="21.5" height="21.5"/><rect x="527.8" y="1565.1" width="21.5" height="21.5"/><rect x="538.1" y="1575.4" width="21.5" height="21.5"/><rect x="547.8" y="1589.1" width="21.5" height="21.5"/><rect x="557.3" y="1603.1" width="21.5" height="21.5"/><rect x="567.6" y="1621.5" width="21.5" height="21.5"/><rect x="576.5" y="1633.7" width="21.5" height="21.5"/><rect x="585.5" y="1652.2" width="21.5" height="21.5"/><rect x="594.4" y="1665.3" width="21.5" height="21.5"/><rect x="603.5" y="1679.2" width="21.5" height="21.5"/><rect x="613.7" y="1690.4" width="21.5" height="21.5"/><rect x="623.9" y="1702.2" width="21.5" height="21.5"/><rect x="632.6" y="1727.1" width="21.5" height="21.5"/><rect x="642" y="1736.7" width="21.5" height="21.5"/><rect x="651.6" y="1752.1" width="21.5" height="21.5"/><rect x="662.1" y="1763.7" width="21.5" height="21.5"/><rect x="671.8" y="1784.7" width="21.5" height="21.5"/><rect x="680.4" y="1793.4" width="21.5" height="21.5"/><rect x="690" y="1814.5" width="21.5" height="21.5"/><rect x="698.6" y="1820.3" width="21.5" height="21.5"/><rect x="707.3" y="1836.6" width="21.5" height="21.5"/><rect x="716" y="1848.2" width="21.5" height="21.5"/><rect x="726.5" y="1858.7" width="21.5" height="21.5"/><rect x="734.3" y="1876" width="21.5" height="21.5"/><rect x="743.9" y="1892.4" width="21.5" height="21.5"/><rect x="754.4" y="1902" width="21.5" height="21.5"/><rect x="763" y="1912.5" width="21.5" height="21.5"/><rect x="771.8" y="1927.8" width="21.5" height="21.5"/><rect x="780.4" y="1941.4" width="21.5" height="21.5"/><rect x="790" y="1954.8" width="21.5" height="21.5"/><rect x="799.5" y="1968.2" width="21.5" height="21.5"/><rect x="808.3" y="1978.8" width="21.5" height="21.5"/><rect x="818.8" y="1990.3" width="21.5" height="21.5"/><rect x="828.4" y="2000.9" width="21.5" height="21.5"/><rect x="837.1" y="2014.4" width="21.5" height="21.5"/><rect x="846.7" y="2024" width="21.5" height="21.5"/><rect x="856.3" y="2033.6" width="21.5" height="21.5"/><rect x="865.5" y="2041.2" width="21.5" height="21.5"/><rect x="875.6" y="2041.2" width="21.5" height="21.5"/><rect x="883.4" y="2034.5" width="21.5" height="21.5"/><rect x="893" y="2023" width="21.5" height="21.5"/><rect x="902.6" y="2012.4" width="21.5" height="21.5"/><rect x="911.3" y="2002.8" width="21.5" height="21.5"/><rect x="920.9" y="1988.4" width="21.5" height="21.5"/><rect x="930.5" y="1978.9" width="21.5" height="21.5"/><rect x="941.1" y="1966.3" width="21.5" height="21.5"/><rect x="948.8" y="1953.8" width="21.5" height="21.5"/><rect x="958.4" y="1944.2" width="21.5" height="21.5"/><rect x="968" y="1930.8" width="21.5" height="21.5"/><rect x="976.7" y="1922.1" width="21.5" height="21.5"/><rect x="985.3" y="1903.9" width="21.5" height="21.5"/><rect x="994.9" y="1889.5" width="21.5" height="21.5"/><rect x="1004.5" y="1873.1" width="21.5" height="21.5"/><rect x="1013.2" y="1865.4" width="21.5" height="21.5"/><rect x="1022.8" y="1850.1" width="21.5" height="21.5"/><rect x="1031.4" y="1841.4" width="21.5" height="21.5"/><rect x="1041" y="1827" width="21.5" height="21.5"/><rect x="1049.7" y="1822.2" width="21.5" height="21.5"/><rect x="1059.3" y="1799.1" width="21.5" height="21.5"/><rect x="1068.9" y="1778" width="21.5" height="21.5"/><rect x="1077.6" y="1765.6" width="21.5" height="21.5"/><rect x="1087.2" y="1759.7" width="21.5" height="21.5"/><rect x="1097.8" y="1742.5" width="21.5" height="21.5"/><rect x="1107.4" y="1730.1" width="21.5" height="21.5"/><rect x="1116.3" y="1716.4" width="21.5" height="21.5"/><rect x="1125.9" y="1697.2" width="21.5" height="21.5"/><rect x="1135.4" y="1681.2" width="21.5" height="21.5"/><rect x="1144.3" y="1676.4" width="21.5" height="21.5"/><rect x="1153.9" y="1654.8" width="21.5" height="21.5"/><rect x="1163.5" y="1644.4" width="21.5" height="21.5"/><rect x="1173.1" y="1621.9" width="21.5" height="21.5"/><rect x="1182.8" y="1610" width="21.5" height="21.5"/><rect x="1191.6" y="1602.8" width="21.5" height="21.5"/><rect x="1201.1" y="1585.9" width="21.5" height="21.5"/><rect x="1209.9" y="1567.5" width="21.5" height="21.5"/><rect x="1218.8" y="1565.1" width="21.5" height="21.5"/><rect x="1228.4" y="1545.9" width="21.5" height="21.5"/><rect x="1238" y="1541.1" width="21.5" height="21.5"/><rect x="1246.9" y="1506.6" width="21.5" height="21.5"/><rect x="1255.7" y="1491.5" width="21.5" height="21.5"/><rect x="1265.2" y="1487.5" width="21.5" height="21.5"/><rect x="1274.6" y="1470.8" width="21.5" height="21.5"/><rect x="1284.2" y="1459.2" width="21.5" height="21.5"/><rect x="1294.4" y="1445.8" width="21.5" height="21.5"/><rect x="1302.8" y="1422.7" width="21.5" height="21.5"/><rect x="1313" y="1413.7" width="21.5" height="21.5"/><rect x="1322" y="1400.3" width="21.5" height="21.5"/><rect x="1331" y="1389.5" width="21.5" height="21.5"/><rect x="1341.2" y="1357.4" width="21.5" height="21.5"/><rect x="1350.2" y="1364.9" width="21.5" height="21.5"/><rect x="1359.2" y="1357.6" width="21.5" height="21.5"/><rect x="1368.8" y="1338.1" width="21.5" height="21.5"/><rect x="1377.7" y="1324.7" width="21.5" height="21.5"/><rect x="1388" y="1311.3" width="21.5" height="21.5"/><rect x="1397.6" y="1301.1" width="21.5" height="21.5"/><rect x="1406.6" y="1290.8" width="21.5" height="21.5"/><rect x="1416.1" y="1270.3" width="21.5" height="21.5"/><rect x="1421.4" y="1262.6" width="21.5" height="21.5"/></g><polyline fill="none" stroke="#ff0000" stroke-width="1.6" stroke-linejoin="round" points="335.1,1454.9 330.7,1483 338.6,1475 346.6,1467.1 355,1495.8 364.9,1497.4 374.8,1499 385,1522.7 393,1527.5 401,1532.2 411.2,1555.2 419.5,1553.3 427.8,1551.4 437.4,1570.6 447,1557.2 456.5,1593.6 471,1599 485.8,1604.5 494.8,1627.3 504.8,1655.5 514,1656 523.1,1656.4 533,1668 543,1679.6 554.6,1691.3 567,1700 579.6,1709.5 587.9,1726.1 597,1737 606.1,1747.7 616,1758 626,1768 636,1779.3 646,1796 660,1811 673.7,1826.2 686,1840 698,1852 710,1864 720,1875 731,1886 741.7,1897.8 752.4,1915.7 764,1930 776,1951.3 788,1963.8 800,1978.8 812,1991.2 824,2003 836,2015.8 848,2026.3 860,2034.3 871,2043.7 881,2052 892,2043.6 904,2029.7 916,2019 930,2009.4 943,1993.7 956,1979.5 970,1966.8 977.6,1958.9 985.2,1951 997.8,1931 1010.4,1911 1020,1897.6 1029.5,1884.2 1037.2,1878.1 1045,1872 1052.6,1864.7 1060.2,1857.3 1068.3,1846.2 1076.5,1835.1 1084.2,1825.5 1092,1816 1106.2,1799.8 1115.8,1792.2 1125.4,1784.5 1136.9,1769.2 1148.4,1753.8 1161.8,1734.7 1175.2,1715.5 1185.4,1707.8 1195.7,1700.2 1205.9,1692.5 1215.5,1682.9 1225.1,1673.3 1236.6,1657.9 1248.1,1642.6 1257.7,1633 1267.3,1623.4 1276.8,1615.8 1286.4,1608.1 1298,1585.1 1307.5,1579.3 1317.1,1573.6 1326.7,1567.8 1336.3,1562.1 1347.8,1546.7 1359.3,1523.7 1372.7,1519.9 1386.1,1516.1 1397.6,1473.9 1405.3,1500.7 1416.8,1452.8 1426.4,1483.5 1432.1,1456.6"/><g fill="#ff0000"><circle cx="335.1" cy="1454.9" r="11.75"/><circle cx="330.7" cy="1483" r="11.75"/><circle cx="338.6" cy="1475" r="11.75"/><circle cx="346.6" cy="1467.1" r="11.75"/><circle cx="355" cy="1495.8" r="11.75"/><circle cx="364.9" cy="1497.4" r="11.75"/><circle cx="374.8" cy="1499" r="11.75"/><circle cx="385" cy="1522.7" r="11.75"/><circle cx="393" cy="1527.5" r="11.75"/><circle cx="401" cy="1532.2" r="11.75"/><circle cx="411.2" cy="1555.2" r="11.75"/><circle cx="419.5" cy="1553.3" r="11.75"/><circle cx="427.8" cy="1551.4" r="11.75"/><circle cx="437.4" cy="1570.6" r="11.75"/><circle cx="447" cy="1557.2" r="11.75"/><circle cx="456.5" cy="1593.6" r="11.75"/><circle cx="471" cy="1599" r="11.75"/><circle cx="485.8" cy="1604.5" r="11.75"/><circle cx="494.8" cy="1627.3" r="11.75"/><circle cx="504.8" cy="1655.5" r="11.75"/><circle cx="514" cy="1656" r="11.75"/><circle cx="523.1" cy="1656.4" r="11.75"/><circle cx="533" cy="1668" r="11.75"/><circle cx="543" cy="1679.6" r="11.75"/><circle cx="554.6" cy="1691.3" r="11.75"/><circle cx="567" cy="1700" r="11.75"/><circle cx="579.6" cy="1709.5" r="11.75"/><circle cx="587.9" cy="1726.1" r="11.75"/><circle cx="597" cy="1737" r="11.75"/><circle cx="606.1" cy="1747.7" r="11.75"/><circle cx="616" cy="1758" r="11.75"/><circle cx="626" cy="1768" r="11.75"/><circle cx="636" cy="1779.3" r="11.75"/><circle cx="646" cy="1796" r="11.75"/><circle cx="660" cy="1811" r="11.75"/><circle cx="673.7" cy="1826.2" r="11.75"/><circle cx="686" cy="1840" r="11.75"/><circle cx="698" cy="1852" r="11.75"/><circle cx="710" cy="1864" r="11.75"/><circle cx="720" cy="1875" r="11.75"/><circle cx="731" cy="1886" r="11.75"/><circle cx="741.7" cy="1897.8" r="11.75"/><circle cx="752.4" cy="1915.7" r="11.75"/><circle cx="764" cy="1930" r="11.75"/><circle cx="776" cy="1951.3" r="11.75"/><circle cx="788" cy="1963.8" r="11.75"/><circle cx="800" cy="1978.8" r="11.75"/><circle cx="812" cy="1991.2" r="11.75"/><circle cx="824" cy="2003" r="11.75"/><circle cx="836" cy="2015.8" r="11.75"/><circle cx="848" cy="2026.3" r="11.75"/><circle cx="860" cy="2034.3" r="11.75"/><circle cx="871" cy="2043.7" r="11.75"/><circle cx="881" cy="2052" r="11.75"/><circle cx="892" cy="2043.6" r="11.75"/><circle cx="904" cy="2029.7" r="11.75"/><circle cx="916" cy="2019" r="11.75"/><circle cx="930" cy="2009.4" r="11.75"/><circle cx="943" cy="1993.7" r="11.75"/><circle cx="956" cy="1979.5" r="11.75"/><circle cx="970" cy="1966.8" r="11.75"/><circle cx="977.6" cy="1958.9" r="11.75"/><circle cx="985.2" cy="1951" r="11.75"/><circle cx="997.8" cy="1931" r="11.75"/><circle cx="1010.4" cy="1911" r="11.75"/><circle cx="1020" cy="1897.6" r="11.75"/><circle cx="1029.5" cy="1884.2" r="11.75"/><circle cx="1037.2" cy="1878.1" r="11.75"/><circle cx="1045" cy="1872" r="11.75"/><circle cx="1052.6" cy="1864.7" r="11.75"/><circle cx="1060.2" cy="1857.3" r="11.75"/><circle cx="1068.3" cy="1846.2" r="11.75"/><circle cx="1076.5" cy="1835.1" r="11.75"/><circle cx="1084.2" cy="1825.5" r="11.75"/><circle cx="1092" cy="1816" r="11.75"/><circle cx="1106.2" cy="1799.8" r="11.75"/><circle cx="1115.8" cy="1792.2" r="11.75"/><circle cx="1125.4" cy="1784.5" r="11.75"/><circle cx="1136.9" cy="1769.2" r="11.75"/><circle cx="1148.4" cy="1753.8" r="11.75"/><circle cx="1161.8" cy="1734.7" r="11.75"/><circle cx="1175.2" cy="1715.5" r="11.75"/><circle cx="1185.4" cy="1707.8" r="11.75"/><circle cx="1195.7" cy="1700.2" r="11.75"/><circle cx="1205.9" cy="1692.5" r="11.75"/><circle cx="1215.5" cy="1682.9" r="11.75"/><circle cx="1225.1" cy="1673.3" r="11.75"/><circle cx="1236.6" cy="1657.9" r="11.75"/><circle cx="1248.1" cy="1642.6" r="11.75"/><circle cx="1257.7" cy="1633" r="11.75"/><circle cx="1267.3" cy="1623.4" r="11.75"/><circle cx="1276.8" cy="1615.8" r="11.75"/><circle cx="1286.4" cy="1608.1" r="11.75"/><circle cx="1298" cy="1585.1" r="11.75"/><circle cx="1307.5" cy="1579.3" r="11.75"/><circle cx="1317.1" cy="1573.6" r="11.75"/><circle cx="1326.7" cy="1567.8" r="11.75"/><circle cx="1336.3" cy="1562.1" r="11.75"/><circle cx="1347.8" cy="1546.7" r="11.75"/><circle cx="1359.3" cy="1523.7" r="11.75"/><circle cx="1372.7" cy="1519.9" r="11.75"/><circle cx="1386.1" cy="1516.1" r="11.75"/><circle cx="1397.6" cy="1473.9" r="11.75"/><circle cx="1405.3" cy="1500.7" r="11.75"/><circle cx="1416.8" cy="1452.8" r="11.75"/><circle cx="1426.4" cy="1483.5" r="11.75"/><circle cx="1432.1" cy="1456.6" r="11.75"/></g><polyline fill="none" stroke="#0000ff" stroke-width="1.6" stroke-linejoin="round" points="330.7,1497.1 331.3,1522.9 339.6,1525.5 347.9,1528 358.1,1565.7 367.7,1492.2 377.3,1526.1 386.9,1560 394.5,1570.4 402.2,1580.8 407.6,1582.9 413,1585 418.8,1587 424.6,1589.1 434,1600 444.4,1612.1 453,1624 462.4,1636.8 471,1646 480,1656 489.8,1665.8 499,1670.8 504.4,1674.5 509.8,1678.3 519.7,1685 528,1700.7 538,1704.9 547.2,1711.5 556.3,1719.8 565.4,1740.6 575,1742 584.5,1743.9 592.8,1773 602,1775 612,1778 620,1787 628.6,1796.3 637.7,1808.8 647,1822 656.5,1834.8 666,1843 675.3,1851.8 684,1857 692.3,1863.4 697.6,1872.3 703,1881.3 712,1887 720.9,1893 729.9,1905.5 738.8,1916.2 748.6,1926.9 758.5,1937.7 767,1946 776.4,1954.7 786.2,1964.5 795.2,1976.1 805,1987.8 814,1996 822.9,2004.8 832.7,2015.5 838.1,2020.8 843.5,2026.2 852,2032 861,2038 871,2046.7 881,2055 886.5,2050.8 892,2046.6 901,2036 910,2026 919,2020 929.1,2013.7 938,2001.2 947.9,1992.2 956.8,1981.5 966,1973 975.6,1965.4 984.5,1954.7 994,1945 1004.2,1935 1011.1,1922 1018,1909.1 1027.6,1900.4 1037.2,1891.8 1045.8,1884.2 1054.5,1876.5 1063.1,1866.9 1071.7,1857.3 1080.3,1848.7 1089,1840.1 1098.5,1833.4 1108.1,1826.7 1116.8,1819 1125.4,1811.3 1135,1803.7 1144.6,1796 1151.6,1790.9 1158.7,1785.7 1165.7,1780.6 1174.3,1772.9 1182.9,1765.3 1190.6,1759.5 1198.3,1753.8 1207.8,1746.2 1217.4,1738.5 1225.1,1723.2 1232.7,1707.8 1240.4,1692.5 1250,1686.8 1259.6,1681 1267.2,1667.5 1274.9,1654.1 1281.9,1650.3 1289,1646.4 1296,1642.6 1305.6,1633.7 1315.2,1624.7 1324.8,1615.8 1333.7,1612 1342.7,1608.1 1351.6,1604.3 1360.6,1589 1369.5,1573.6 1378.5,1558.3 1387.4,1557 1396.4,1555.7 1405.3,1554.4 1414.9,1537.2 1424.5,1519.9"/><g fill="#0000ff"><path d="M330.7 1484.2L345.7 1510L315.7 1510Z"/><path d="M331.3 1510L346.3 1535.8L316.3 1535.8Z"/><path d="M339.6 1512.5L354.6 1538.4L324.6 1538.4Z"/><path d="M347.9 1515.1L362.9 1540.9L332.9 1540.9Z"/><path d="M358.1 1552.8L373.1 1578.6L343.1 1578.6Z"/><path d="M367.7 1479.3L382.7 1505.1L352.7 1505.1Z"/><path d="M377.3 1513.2L392.3 1539L362.3 1539Z"/><path d="M386.9 1547.1L401.9 1572.9L371.9 1572.9Z"/><path d="M394.5 1557.5L409.5 1583.3L379.5 1583.3Z"/><path d="M402.2 1567.9L417.2 1593.7L387.2 1593.7Z"/><path d="M407.6 1570L422.6 1595.8L392.6 1595.8Z"/><path d="M413 1572.1L428 1597.9L398 1597.9Z"/><path d="M418.8 1574.1L433.8 1600L403.8 1600Z"/><path d="M424.6 1576.2L439.6 1602L409.6 1602Z"/><path d="M434 1587.1L449 1612.9L419 1612.9Z"/><path d="M444.4 1599.2L459.4 1625L429.4 1625Z"/><path d="M453 1611.1L468 1636.9L438 1636.9Z"/><path d="M462.4 1623.9L477.4 1649.7L447.4 1649.7Z"/><path d="M471 1633.1L486 1658.9L456 1658.9Z"/><path d="M480 1643.1L495 1668.9L465 1668.9Z"/><path d="M489.8 1652.9L504.8 1678.7L474.8 1678.7Z"/><path d="M499 1657.9L514 1683.7L484 1683.7Z"/><path d="M504.4 1661.6L519.4 1687.5L489.4 1687.5Z"/><path d="M509.8 1665.4L524.8 1691.2L494.8 1691.2Z"/><path d="M519.7 1672.1L534.7 1697.9L504.7 1697.9Z"/><path d="M528 1687.8L543 1713.6L513 1713.6Z"/><path d="M538 1692L553 1717.8L523 1717.8Z"/><path d="M547.2 1698.6L562.2 1724.4L532.2 1724.4Z"/><path d="M556.3 1706.9L571.3 1732.7L541.3 1732.7Z"/><path d="M565.4 1727.7L580.4 1753.5L550.4 1753.5Z"/><path d="M575 1729.1L590 1754.9L560 1754.9Z"/><path d="M584.5 1731L599.5 1756.8L569.5 1756.8Z"/><path d="M592.8 1760.1L607.8 1785.9L577.8 1785.9Z"/><path d="M602 1762.1L617 1787.9L587 1787.9Z"/><path d="M612 1765.1L627 1790.9L597 1790.9Z"/><path d="M620 1774.1L635 1799.9L605 1799.9Z"/><path d="M628.6 1783.4L643.6 1809.2L613.6 1809.2Z"/><path d="M637.7 1795.9L652.7 1821.7L622.7 1821.7Z"/><path d="M647 1809.1L662 1834.9L632 1834.9Z"/><path d="M656.5 1821.9L671.5 1847.7L641.5 1847.7Z"/><path d="M666 1830.1L681 1855.9L651 1855.9Z"/><path d="M675.3 1838.9L690.3 1864.7L660.3 1864.7Z"/><path d="M684 1844.1L699 1869.9L669 1869.9Z"/><path d="M692.3 1850.5L707.3 1876.3L677.3 1876.3Z"/><path d="M697.6 1859.4L712.6 1885.2L682.6 1885.2Z"/><path d="M703 1868.4L718 1894.2L688 1894.2Z"/><path d="M712 1874.1L727 1899.9L697 1899.9Z"/><path d="M720.9 1880.1L735.9 1905.9L705.9 1905.9Z"/><path d="M729.9 1892.6L744.9 1918.4L714.9 1918.4Z"/><path d="M738.8 1903.3L753.8 1929.1L723.8 1929.1Z"/><path d="M748.6 1914L763.6 1939.8L733.6 1939.8Z"/><path d="M758.5 1924.8L773.5 1950.6L743.5 1950.6Z"/><path d="M767 1933.1L782 1958.9L752 1958.9Z"/><path d="M776.4 1941.8L791.4 1967.6L761.4 1967.6Z"/><path d="M786.2 1951.6L801.2 1977.4L771.2 1977.4Z"/><path d="M795.2 1963.2L810.2 1989L780.2 1989Z"/><path d="M805 1974.9L820 2000.7L790 2000.7Z"/><path d="M814 1983.1L829 2008.9L799 2008.9Z"/><path d="M822.9 1991.9L837.9 2017.7L807.9 2017.7Z"/><path d="M832.7 2002.6L847.7 2028.4L817.7 2028.4Z"/><path d="M838.1 2007.9L853.1 2033.8L823.1 2033.8Z"/><path d="M843.5 2013.3L858.5 2039.1L828.5 2039.1Z"/><path d="M852 2019.1L867 2044.9L837 2044.9Z"/><path d="M861 2025.1L876 2050.9L846 2050.9Z"/><path d="M871 2033.8L886 2059.6L856 2059.6Z"/><path d="M881 2042.1L896 2067.9L866 2067.9Z"/><path d="M886.5 2037.9L901.5 2063.7L871.5 2063.7Z"/><path d="M892 2033.7L907 2059.5L877 2059.5Z"/><path d="M901 2023.1L916 2048.9L886 2048.9Z"/><path d="M910 2013.1L925 2038.9L895 2038.9Z"/><path d="M919 2007.1L934 2032.9L904 2032.9Z"/><path d="M929.1 2000.8L944.1 2026.6L914.1 2026.6Z"/><path d="M938 1988.3L953 2014.1L923 2014.1Z"/><path d="M947.9 1979.3L962.9 2005.1L932.9 2005.1Z"/><path d="M956.8 1968.6L971.8 1994.4L941.8 1994.4Z"/><path d="M966 1960.1L981 1985.9L951 1985.9Z"/><path d="M975.6 1952.5L990.6 1978.3L960.6 1978.3Z"/><path d="M984.5 1941.8L999.5 1967.6L969.5 1967.6Z"/><path d="M994 1932.1L1009 1957.9L979 1957.9Z"/><path d="M1004.2 1922.1L1019.2 1947.9L989.2 1947.9Z"/><path d="M1011.1 1909.1L1026.1 1935L996.1 1935Z"/><path d="M1018 1896.2L1033 1922L1003 1922Z"/><path d="M1027.6 1887.5L1042.6 1913.3L1012.6 1913.3Z"/><path d="M1037.2 1878.9L1052.2 1904.7L1022.2 1904.7Z"/><path d="M1045.8 1871.2L1060.8 1897.1L1030.8 1897.1Z"/><path d="M1054.5 1863.6L1069.5 1889.4L1039.5 1889.4Z"/><path d="M1063.1 1854L1078.1 1879.8L1048.1 1879.8Z"/><path d="M1071.7 1844.4L1086.7 1870.2L1056.7 1870.2Z"/><path d="M1080.3 1835.8L1095.3 1861.6L1065.3 1861.6Z"/><path d="M1089 1827.2L1104 1853L1074 1853Z"/><path d="M1098.5 1820.5L1113.5 1846.3L1083.5 1846.3Z"/><path d="M1108.1 1813.8L1123.1 1839.6L1093.1 1839.6Z"/><path d="M1116.8 1806.1L1131.8 1831.9L1101.8 1831.9Z"/><path d="M1125.4 1798.4L1140.4 1824.2L1110.4 1824.2Z"/><path d="M1135 1790.8L1150 1816.6L1120 1816.6Z"/><path d="M1144.6 1783.1L1159.6 1808.9L1129.6 1808.9Z"/><path d="M1151.6 1778L1166.6 1803.8L1136.6 1803.8Z"/><path d="M1158.7 1772.8L1173.7 1798.6L1143.7 1798.6Z"/><path d="M1165.7 1767.7L1180.7 1793.5L1150.7 1793.5Z"/><path d="M1174.3 1760L1189.3 1785.8L1159.3 1785.8Z"/><path d="M1182.9 1752.4L1197.9 1778.2L1167.9 1778.2Z"/><path d="M1190.6 1746.6L1205.6 1772.5L1175.6 1772.5Z"/><path d="M1198.3 1740.9L1213.3 1766.7L1183.3 1766.7Z"/><path d="M1207.8 1733.2L1222.8 1759.1L1192.8 1759.1Z"/><path d="M1217.4 1725.6L1232.4 1751.4L1202.4 1751.4Z"/><path d="M1225.1 1710.3L1240.1 1736.1L1210.1 1736.1Z"/><path d="M1232.7 1694.9L1247.7 1720.7L1217.7 1720.7Z"/><path d="M1240.4 1679.6L1255.4 1705.4L1225.4 1705.4Z"/><path d="M1250 1673.8L1265 1699.7L1235 1699.7Z"/><path d="M1259.6 1668.1L1274.6 1693.9L1244.6 1693.9Z"/><path d="M1267.2 1654.6L1282.2 1680.5L1252.2 1680.5Z"/><path d="M1274.9 1641.2L1289.9 1667L1259.9 1667Z"/><path d="M1281.9 1637.4L1296.9 1663.2L1266.9 1663.2Z"/><path d="M1289 1633.5L1304 1659.3L1274 1659.3Z"/><path d="M1296 1629.7L1311 1655.5L1281 1655.5Z"/><path d="M1305.6 1620.8L1320.6 1646.6L1290.6 1646.6Z"/><path d="M1315.2 1611.8L1330.2 1637.6L1300.2 1637.6Z"/><path d="M1324.8 1602.9L1339.8 1628.7L1309.8 1628.7Z"/><path d="M1333.7 1599.1L1348.7 1624.9L1318.7 1624.9Z"/><path d="M1342.7 1595.2L1357.7 1621L1327.7 1621Z"/><path d="M1351.6 1591.4L1366.6 1617.2L1336.6 1617.2Z"/><path d="M1360.6 1576.1L1375.6 1601.9L1345.6 1601.9Z"/><path d="M1369.5 1560.7L1384.5 1586.5L1354.5 1586.5Z"/><path d="M1378.5 1545.4L1393.5 1571.2L1363.5 1571.2Z"/><path d="M1387.4 1544.1L1402.4 1569.9L1372.4 1569.9Z"/><path d="M1396.4 1542.8L1411.4 1568.6L1381.4 1568.6Z"/><path d="M1405.3 1541.5L1420.3 1567.3L1390.3 1567.3Z"/><path d="M1414.9 1524.2L1429.9 1550.1L1399.9 1550.1Z"/><path d="M1424.5 1507L1439.5 1532.8L1409.5 1532.8Z"/><path d="M1128.6 1781.9L1143.6 1807.7L1113.6 1807.7Z"/><path d="M1163.5 1750.6L1178.5 1776.4L1148.5 1776.4Z"/><path d="M1185 1735.1L1200 1760.9L1170 1760.9Z"/><path d="M1210.9 1717.5L1225.9 1743.3L1195.9 1743.3Z"/><path d="M1237.8 1663.8L1252.8 1689.6L1222.8 1689.6Z"/><path d="M1266.4 1626.2L1281.4 1652L1251.4 1652Z"/><path d="M1294.1 1619L1309.1 1644.8L1279.1 1644.8Z"/><path d="M1322.8 1592.2L1337.8 1618L1307.8 1618Z"/><path d="M1350.5 1577L1365.5 1602.8L1335.5 1602.8Z"/><path d="M1378.5 1531.4L1393.5 1557.2L1363.5 1557.2Z"/><path d="M1424.5 1500.7L1439.5 1526.5L1409.5 1526.5Z"/><path d="M625 1765.1L640 1790.9L610 1790.9Z"/><path d="M633.6 1774.4L648.6 1800.2L618.6 1800.2Z"/><path d="M642.7 1786.9L657.7 1812.7L627.7 1812.7Z"/><path d="M652 1800.1L667 1825.9L637 1825.9Z"/><path d="M661.5 1812.9L676.5 1838.7L646.5 1838.7Z"/><path d="M671 1821.1L686 1846.9L656 1846.9Z"/><path d="M680.3 1829.9L695.3 1855.7L665.3 1855.7Z"/><path d="M689 1835.1L704 1860.9L674 1860.9Z"/><path d="M697.3 1841.5L712.3 1867.3L682.3 1867.3Z"/><path d="M702.6 1850.4L717.6 1876.2L687.6 1876.2Z"/><path d="M708 1859.4L723 1885.2L693 1885.2Z"/><path d="M717 1865.1L732 1890.9L702 1890.9Z"/><path d="M725.9 1871.1L740.9 1896.9L710.9 1896.9Z"/><path d="M734.9 1883.6L749.9 1909.4L719.9 1909.4Z"/><path d="M743.8 1894.3L758.8 1920.1L728.8 1920.1Z"/><path d="M753.6 1905L768.6 1930.8L738.6 1930.8Z"/><path d="M763.5 1915.8L778.5 1941.6L748.5 1941.6Z"/><path d="M772 1924.1L787 1949.9L757 1949.9Z"/><path d="M781.4 1932.8L796.4 1958.6L766.4 1958.6Z"/><path d="M791.2 1942.6L806.2 1968.4L776.2 1968.4Z"/><path d="M800.2 1954.2L815.2 1980L785.2 1980Z"/><path d="M810 1965.9L825 1991.7L795 1991.7Z"/><path d="M951.8 1959.6L966.8 1985.4L936.8 1985.4Z"/><path d="M961 1951.1L976 1976.9L946 1976.9Z"/><path d="M970.6 1943.5L985.6 1969.3L955.6 1969.3Z"/><path d="M979.5 1932.8L994.5 1958.6L964.5 1958.6Z"/><path d="M989 1923.1L1004 1948.9L974 1948.9Z"/><path d="M999.2 1913.1L1014.2 1938.9L984.2 1938.9Z"/><path d="M1006.1 1900.1L1021.1 1926L991.1 1926Z"/><path d="M1013 1887.2L1028 1913L998 1913Z"/><path d="M1022.6 1878.5L1037.6 1904.3L1007.6 1904.3Z"/><path d="M1032.2 1869.9L1047.2 1895.7L1017.2 1895.7Z"/><path d="M1040.8 1862.2L1055.8 1888.1L1025.8 1888.1Z"/><path d="M1049.5 1854.6L1064.5 1880.4L1034.5 1880.4Z"/><path d="M1058.1 1845L1073.1 1870.8L1043.1 1870.8Z"/><path d="M1066.7 1835.4L1081.7 1861.2L1051.7 1861.2Z"/><path d="M1075.3 1826.8L1090.3 1852.6L1060.3 1852.6Z"/><path d="M1084 1818.2L1099 1844L1069 1844Z"/><path d="M1093.5 1811.5L1108.5 1837.3L1078.5 1837.3Z"/><path d="M1103.1 1804.8L1118.1 1830.6L1088.1 1830.6Z"/><path d="M1111.8 1797.1L1126.8 1822.9L1096.8 1822.9Z"/></g><polyline fill="none" stroke="#ff00ff" stroke-width="1.6" stroke-linejoin="round" points="331.1,1923.3 333.6,1930.8 355.7,1939.1 376.4,1942.9 398,1969 418.8,1958.2 439.6,1960 460.3,1957.4 481.1,1965 501,1979 522.6,1994 544.2,1988.9 564.2,2017 582.6,2010 604.9,2003.2 624,2027.3 646.3,2025 669.5,2029.6 687.2,2041 710.2,2038.8 732.1,2044.6 750,2043.4 770,2057.2 793,2052.6 816,2063 838,2066 860,2068 881,2069.6 902,2068 923,2066 944,2064 964,2060 985,2057 1012.6,2052.5 1040.7,2031.8 1062,2037.6 1082,2028.4 1101.2,2023.3 1121.9,2019.6 1144.9,2014.6 1164.5,1982.4 1186.3,2000.8 1207,1982.4 1229.7,1994.4 1247.8,1987.5 1269.7,1972.3 1290.9,1970.1 1311.6,1972.7 1332.3,1969.4 1353,1957.1 1374.6,1946.9 1394.5,1942.5 1415.2,1950.2 1430.7,1932.6"/><g fill="#ff00ff"><path d="M315.8 1909.9L346.4 1909.9L331.1 1936.7Z"/><path d="M318.3 1917.4L348.9 1917.4L333.6 1944.2Z"/><path d="M340.4 1925.7L371 1925.7L355.7 1952.5Z"/><path d="M361.1 1929.5L391.7 1929.5L376.4 1956.3Z"/><path d="M382.7 1955.6L413.3 1955.6L398 1982.4Z"/><path d="M403.5 1944.8L434.1 1944.8L418.8 1971.6Z"/><path d="M424.3 1946.6L454.9 1946.6L439.6 1973.4Z"/><path d="M445 1944L475.6 1944L460.3 1970.8Z"/><path d="M465.8 1951.6L496.4 1951.6L481.1 1978.4Z"/><path d="M485.7 1965.6L516.3 1965.6L501 1992.4Z"/><path d="M507.3 1980.6L537.9 1980.6L522.6 2007.4Z"/><path d="M528.9 1975.5L559.5 1975.5L544.2 2002.3Z"/><path d="M548.9 2003.6L579.5 2003.6L564.2 2030.4Z"/><path d="M567.3 1996.6L597.9 1996.6L582.6 2023.4Z"/><path d="M589.6 1989.8L620.2 1989.8L604.9 2016.6Z"/><path d="M608.7 2013.9L639.3 2013.9L624 2040.7Z"/><path d="M631 2011.6L661.6 2011.6L646.3 2038.4Z"/><path d="M654.2 2016.2L684.8 2016.2L669.5 2043Z"/><path d="M671.9 2027.6L702.5 2027.6L687.2 2054.4Z"/><path d="M694.9 2025.4L725.5 2025.4L710.2 2052.2Z"/><path d="M716.8 2031.2L747.4 2031.2L732.1 2058Z"/><path d="M734.7 2030L765.3 2030L750 2056.8Z"/><path d="M754.7 2043.8L785.3 2043.8L770 2070.6Z"/><path d="M777.7 2039.2L808.3 2039.2L793 2066Z"/><path d="M800.7 2049.6L831.3 2049.6L816 2076.4Z"/><path d="M822.7 2052.6L853.3 2052.6L838 2079.4Z"/><path d="M844.7 2054.6L875.3 2054.6L860 2081.4Z"/><path d="M865.7 2056.2L896.3 2056.2L881 2083Z"/><path d="M886.7 2054.6L917.3 2054.6L902 2081.4Z"/><path d="M907.7 2052.6L938.3 2052.6L923 2079.4Z"/><path d="M928.7 2050.6L959.3 2050.6L944 2077.4Z"/><path d="M948.7 2046.6L979.3 2046.6L964 2073.4Z"/><path d="M969.7 2043.6L1000.3 2043.6L985 2070.4Z"/><path d="M997.3 2039.1L1027.9 2039.1L1012.6 2065.9Z"/><path d="M1025.4 2018.4L1056 2018.4L1040.7 2045.2Z"/><path d="M1046.7 2024.2L1077.3 2024.2L1062 2051Z"/><path d="M1066.7 2015L1097.3 2015L1082 2041.8Z"/><path d="M1085.9 2009.9L1116.5 2009.9L1101.2 2036.7Z"/><path d="M1106.6 2006.2L1137.2 2006.2L1121.9 2033Z"/><path d="M1129.6 2001.2L1160.2 2001.2L1144.9 2028Z"/><path d="M1149.2 1969L1179.8 1969L1164.5 1995.8Z"/><path d="M1171 1987.4L1201.6 1987.4L1186.3 2014.2Z"/><path d="M1191.7 1969L1222.3 1969L1207 1995.8Z"/><path d="M1214.4 1981L1245 1981L1229.7 2007.8Z"/><path d="M1232.5 1974.1L1263.1 1974.1L1247.8 2000.9Z"/><path d="M1254.4 1958.9L1285 1958.9L1269.7 1985.7Z"/><path d="M1275.6 1956.7L1306.2 1956.7L1290.9 1983.5Z"/><path d="M1296.3 1959.3L1326.9 1959.3L1311.6 1986.1Z"/><path d="M1317 1956L1347.6 1956L1332.3 1982.8Z"/><path d="M1337.7 1943.7L1368.3 1943.7L1353 1970.5Z"/><path d="M1359.3 1933.5L1389.9 1933.5L1374.6 1960.3Z"/><path d="M1379.2 1929.1L1409.8 1929.1L1394.5 1955.9Z"/><path d="M1399.9 1936.8L1430.5 1936.8L1415.2 1963.6Z"/><path d="M1415.4 1919.2L1446 1919.2L1430.7 1946Z"/></g><polyline fill="none" stroke="#008000" stroke-width="1.6" stroke-linejoin="round" points="330.7,2036.2 330.7,2050.3 346.5,2032 366.5,2032 386.4,2035.4 408.8,2047 429.6,2066 451.2,2033.7 472,2056 492.7,2043.7 514.3,2046 535.1,2048.7 555,2051.7 576.8,2052.8 598.7,2051.7 618.2,2056.3 637.8,2058.8 656.2,2050.5 678,2055.4 698.7,2049.4 719.4,2063.2 740,2065.7 760.8,2060.9 781.5,2062 801,2063.2 821.8,2063.2 843.7,2063.2 864.4,2063.2 883.9,2063.2 904.5,2063.1 925.2,2063.1 945.9,2063.1 966.6,2058.5 987.3,2065.4 1008,2058.5 1028.7,2055 1048.3,2060.8 1067.8,2056.2 1087.4,2058.5 1106.9,2057.4 1127.6,2059.7 1148.3,2050.4 1170.2,2043.5 1190,2038.5 1210.7,2054.3 1230.5,2044.3 1251.3,2044.3 1272.8,2052.5 1293.5,2044.3 1315.1,2043.1 1335.8,2037.4 1356.5,2040.5 1376.3,2038.8 1396.2,2029.2 1416.9,2024.9 1434.1,2028.4"/><g fill="#008000"><path d="M330.7 2020.4L346.1 2036.2L330.7 2052L315.3 2036.2Z"/><path d="M330.7 2034.5L346.1 2050.3L330.7 2066.1L315.3 2050.3Z"/><path d="M346.5 2016.2L361.9 2032L346.5 2047.8L331.1 2032Z"/><path d="M366.5 2016.2L381.9 2032L366.5 2047.8L351.1 2032Z"/><path d="M386.4 2019.6L401.8 2035.4L386.4 2051.2L371 2035.4Z"/><path d="M408.8 2031.2L424.2 2047L408.8 2062.8L393.4 2047Z"/><path d="M429.6 2050.2L445 2066L429.6 2081.8L414.2 2066Z"/><path d="M451.2 2017.9L466.6 2033.7L451.2 2049.5L435.8 2033.7Z"/><path d="M472 2040.2L487.4 2056L472 2071.8L456.6 2056Z"/><path d="M492.7 2027.9L508.1 2043.7L492.7 2059.5L477.3 2043.7Z"/><path d="M514.3 2030.2L529.6 2046L514.3 2061.8L498.9 2046Z"/><path d="M535.1 2032.9L550.5 2048.7L535.1 2064.5L519.8 2048.7Z"/><path d="M555 2035.9L570.4 2051.7L555 2067.5L539.6 2051.7Z"/><path d="M576.8 2037L592.1 2052.8L576.8 2068.6L561.4 2052.8Z"/><path d="M598.7 2035.9L614.1 2051.7L598.7 2067.5L583.4 2051.7Z"/><path d="M618.2 2040.5L633.6 2056.3L618.2 2072.1L602.9 2056.3Z"/><path d="M637.8 2043L653.1 2058.8L637.8 2074.6L622.4 2058.8Z"/><path d="M656.2 2034.7L671.6 2050.5L656.2 2066.3L640.9 2050.5Z"/><path d="M678 2039.6L693.4 2055.4L678 2071.2L662.6 2055.4Z"/><path d="M698.7 2033.6L714.1 2049.4L698.7 2065.2L683.4 2049.4Z"/><path d="M719.4 2047.4L734.8 2063.2L719.4 2079L704 2063.2Z"/><path d="M740 2049.9L755.4 2065.7L740 2081.5L724.6 2065.7Z"/><path d="M760.8 2045.1L776.1 2060.9L760.8 2076.7L745.4 2060.9Z"/><path d="M781.5 2046.2L796.9 2062L781.5 2077.8L766.1 2062Z"/><path d="M801 2047.4L816.4 2063.2L801 2079L785.6 2063.2Z"/><path d="M821.8 2047.4L837.1 2063.2L821.8 2079L806.4 2063.2Z"/><path d="M843.7 2047.4L859.1 2063.2L843.7 2079L828.4 2063.2Z"/><path d="M864.4 2047.4L879.8 2063.2L864.4 2079L849 2063.2Z"/><path d="M883.9 2047.4L899.2 2063.2L883.9 2079L868.5 2063.2Z"/><path d="M904.5 2047.3L919.9 2063.1L904.5 2078.9L889.1 2063.1Z"/><path d="M925.2 2047.3L940.6 2063.1L925.2 2078.9L909.9 2063.1Z"/><path d="M945.9 2047.3L961.2 2063.1L945.9 2078.9L930.5 2063.1Z"/><path d="M966.6 2042.7L982 2058.5L966.6 2074.3L951.2 2058.5Z"/><path d="M987.3 2049.6L1002.6 2065.4L987.3 2081.2L971.9 2065.4Z"/><path d="M1008 2042.7L1023.4 2058.5L1008 2074.3L992.6 2058.5Z"/><path d="M1028.7 2039.2L1044 2055L1028.7 2070.8L1013.4 2055Z"/><path d="M1048.3 2045L1063.6 2060.8L1048.3 2076.6L1033 2060.8Z"/><path d="M1067.8 2040.4L1083.1 2056.2L1067.8 2072L1052.5 2056.2Z"/><path d="M1087.4 2042.7L1102.8 2058.5L1087.4 2074.3L1072.1 2058.5Z"/><path d="M1106.9 2041.6L1122.2 2057.4L1106.9 2073.2L1091.6 2057.4Z"/><path d="M1127.6 2043.9L1142.9 2059.7L1127.6 2075.5L1112.2 2059.7Z"/><path d="M1148.3 2034.6L1163.6 2050.4L1148.3 2066.2L1133 2050.4Z"/><path d="M1170.2 2027.7L1185.5 2043.5L1170.2 2059.3L1154.9 2043.5Z"/><path d="M1190 2022.7L1205.3 2038.5L1190 2054.3L1174.7 2038.5Z"/><path d="M1210.7 2038.5L1226 2054.3L1210.7 2070.1L1195.4 2054.3Z"/><path d="M1230.5 2028.5L1245.8 2044.3L1230.5 2060.1L1215.2 2044.3Z"/><path d="M1251.3 2028.5L1266.6 2044.3L1251.3 2060.1L1236 2044.3Z"/><path d="M1272.8 2036.7L1288.1 2052.5L1272.8 2068.3L1257.5 2052.5Z"/><path d="M1293.5 2028.5L1308.8 2044.3L1293.5 2060.1L1278.2 2044.3Z"/><path d="M1315.1 2027.3L1330.4 2043.1L1315.1 2058.9L1299.8 2043.1Z"/><path d="M1335.8 2021.6L1351.1 2037.4L1335.8 2053.2L1320.5 2037.4Z"/><path d="M1356.5 2024.7L1371.8 2040.5L1356.5 2056.3L1341.2 2040.5Z"/><path d="M1376.3 2023L1391.6 2038.8L1376.3 2054.6L1361 2038.8Z"/><path d="M1396.2 2013.4L1411.5 2029.2L1396.2 2045L1380.9 2029.2Z"/><path d="M1416.9 2009.1L1432.2 2024.9L1416.9 2040.7L1401.6 2024.9Z"/><path d="M1434.1 2012.6L1449.4 2028.4L1434.1 2044.2L1418.8 2028.4Z"/></g><polyline fill="none" stroke="#000080" stroke-width="1.6" stroke-linejoin="round" points="327.4,2074 330,2084 352.3,2091.4 371.1,2078 391.9,2076 412.6,2078 432.6,2072 454.2,2080 475,2074 495.7,2077 516.5,2075 537.3,2075 555.6,2074.9 576.3,2066.9 597,2073.8 617.8,2074.2 638.5,2076.8 659.2,2069.2 679.9,2072.6 700.6,2072.6 721.3,2078.4 740.8,2073.8 760.4,2068 781.1,2068 800.6,2068.7 820.2,2068.7 842,2069.2 862.8,2068 883.5,2066.9 900.6,2069 921.3,2065.6 942,2066.8 962.7,2065.6 983.4,2064.5 1005.3,2061 1026,2064.5 1046.7,2070.2 1067.4,2069 1088.1,2064.5 1108.8,2056.4 1129.5,2064.5 1150.2,2056.4 1170.9,2061 1190.5,2058.7 1210.7,2056.3 1231.4,2051.2 1253,2056.8 1272.8,2056.8 1292.7,2046.5 1311.6,2055.5 1331.5,2053.7 1352.2,2056.8 1372.9,2054.3 1392.7,2047.7 1413.4,2051.7 1428.1,2054.6"/><g fill="#000080"><path d="M315.4 2074L339.4 2059.2L339.4 2088.8Z"/><path d="M318 2084L342 2069.2L342 2098.8Z"/><path d="M340.3 2091.4L364.3 2076.6L364.3 2106.2Z"/><path d="M359.1 2078L383.1 2063.2L383.1 2092.8Z"/><path d="M379.9 2076L403.9 2061.2L403.9 2090.8Z"/><path d="M400.6 2078L424.6 2063.2L424.6 2092.8Z"/><path d="M420.6 2072L444.6 2057.2L444.6 2086.8Z"/><path d="M442.2 2080L466.2 2065.2L466.2 2094.8Z"/><path d="M463 2074L487 2059.2L487 2088.8Z"/><path d="M483.7 2077L507.7 2062.2L507.7 2091.8Z"/><path d="M504.5 2075L528.5 2060.2L528.5 2089.8Z"/><path d="M525.3 2075L549.3 2060.2L549.3 2089.8Z"/><path d="M543.6 2074.9L567.6 2060.1L567.6 2089.8Z"/><path d="M564.3 2066.9L588.3 2052.1L588.3 2081.8Z"/><path d="M585 2073.8L609 2059L609 2088.7Z"/><path d="M605.8 2074.2L629.8 2059.3L629.8 2089Z"/><path d="M626.5 2076.8L650.5 2062L650.5 2091.7Z"/><path d="M647.2 2069.2L671.2 2054.3L671.2 2084Z"/><path d="M667.9 2072.6L691.9 2057.8L691.9 2087.4Z"/><path d="M688.6 2072.6L712.6 2057.8L712.6 2087.4Z"/><path d="M709.3 2078.4L733.3 2063.6L733.3 2093.2Z"/><path d="M728.8 2073.8L752.8 2059L752.8 2088.7Z"/><path d="M748.4 2068L772.4 2053.2L772.4 2082.8Z"/><path d="M769.1 2068L793.1 2053.2L793.1 2082.8Z"/><path d="M788.6 2068.7L812.6 2053.8L812.6 2083.5Z"/><path d="M808.2 2068.7L832.2 2053.8L832.2 2083.5Z"/><path d="M830 2069.2L854 2054.3L854 2084Z"/><path d="M850.8 2068L874.8 2053.2L874.8 2082.8Z"/><path d="M871.5 2066.9L895.5 2052.1L895.5 2081.8Z"/><path d="M888.6 2069L912.6 2054.2L912.6 2083.8Z"/><path d="M909.3 2065.6L933.3 2050.8L933.3 2080.4Z"/><path d="M930 2066.8L954 2052L954 2081.7Z"/><path d="M950.7 2065.6L974.7 2050.8L974.7 2080.4Z"/><path d="M971.4 2064.5L995.4 2049.7L995.4 2079.3Z"/><path d="M993.3 2061L1017.3 2046.2L1017.3 2075.8Z"/><path d="M1014 2064.5L1038 2049.7L1038 2079.3Z"/><path d="M1034.7 2070.2L1058.7 2055.3L1058.7 2085Z"/><path d="M1055.4 2069L1079.4 2054.2L1079.4 2083.8Z"/><path d="M1076.1 2064.5L1100.1 2049.7L1100.1 2079.3Z"/><path d="M1096.8 2056.4L1120.8 2041.6L1120.8 2071.2Z"/><path d="M1117.5 2064.5L1141.5 2049.7L1141.5 2079.3Z"/><path d="M1138.2 2056.4L1162.2 2041.6L1162.2 2071.2Z"/><path d="M1158.9 2061L1182.9 2046.2L1182.9 2075.8Z"/><path d="M1178.5 2058.7L1202.5 2043.8L1202.5 2073.5Z"/><path d="M1198.7 2056.3L1222.7 2041.5L1222.7 2071.2Z"/><path d="M1219.4 2051.2L1243.4 2036.3L1243.4 2066Z"/><path d="M1241 2056.8L1265 2042L1265 2071.7Z"/><path d="M1260.8 2056.8L1284.8 2042L1284.8 2071.7Z"/><path d="M1280.7 2046.5L1304.7 2031.7L1304.7 2061.3Z"/><path d="M1299.6 2055.5L1323.6 2040.7L1323.6 2070.3Z"/><path d="M1319.5 2053.7L1343.5 2038.8L1343.5 2068.5Z"/><path d="M1340.2 2056.8L1364.2 2042L1364.2 2071.7Z"/><path d="M1360.9 2054.3L1384.9 2039.5L1384.9 2069.2Z"/><path d="M1380.7 2047.7L1404.7 2032.9L1404.7 2062.6Z"/><path d="M1401.4 2051.7L1425.4 2036.8L1425.4 2066.5Z"/><path d="M1416.1 2054.6L1440.1 2039.8L1440.1 2069.4Z"/></g><text y="1803.3" font-size="66" style="font-family:'Liberation Sans',Arial,Helvetica,sans-serif"><tspan x="1325">(</tspan><tspan x="1345">b</tspan><tspan x="1386">)</tspan></text><text transform="translate(82.6,1792.8) rotate(-90) scale(0.894,1)" font-size="66" style="font-family:'Liberation Sans',Arial,Helvetica,sans-serif">MR (%)</text><text x="818.7" y="2284.5" font-size="64" style="font-family:'Liberation Sans',Arial,Helvetica,sans-serif" font-style="italic">H</text><text x="871.1" y="2284.5" font-size="64" style="font-family:'Liberation Sans',Arial,Helvetica,sans-serif" textLength="77" lengthAdjust="spacingAndGlyphs">(T)</text><line x1="781.5" y1="1285.6" x2="887" y2="1285.6" stroke="#000" stroke-width="2.2"/><rect x="824.4" y="1274.6" width="21.2" height="21.2" fill="#000"/><text x="899.6" y="1301" font-size="66" letter-spacing="-3.6" style="font-family:'Liberation Sans',Arial,Helvetica,sans-serif">2 K</text><line x1="781.5" y1="1356.5" x2="887" y2="1356.5" stroke="#ff0000" stroke-width="2.2"/><circle cx="834.4" cy="1356.5" r="11.6" fill="#ff0000"/><text x="899.6" y="1371.9" font-size="66" letter-spacing="-3.6" style="font-family:'Liberation Sans',Arial,Helvetica,sans-serif">5 K</text><line x1="781.5" y1="1427.4" x2="887" y2="1427.4" stroke="#0000ff" stroke-width="2.2"/><path d="M834.4 1410.2L849 1436L819 1436Z" fill="#0000ff"/><text x="899.6" y="1442.8" font-size="66" letter-spacing="-3.6" style="font-family:'Liberation Sans',Arial,Helvetica,sans-serif">10 K</text><line x1="781.5" y1="1498.3" x2="887" y2="1498.3" stroke="#ff00ff" stroke-width="2.2"/><path d="M819 1488.7L849.5 1488.7L834.4 1515.5Z" fill="#ff00ff"/><text x="899.6" y="1513.7" font-size="66" letter-spacing="-3.6" style="font-family:'Liberation Sans',Arial,Helvetica,sans-serif">50 K</text><line x1="781.5" y1="1569.2" x2="887" y2="1569.2" stroke="#008000" stroke-width="2.2"/><path d="M834.4 1553.4L849.6 1569.2L834.4 1585L819 1569.2Z" fill="#008000"/><text x="899.6" y="1584.6" font-size="66" letter-spacing="-3.6" style="font-family:'Liberation Sans',Arial,Helvetica,sans-serif">100 K</text><line x1="781.5" y1="1640.1" x2="887" y2="1640.1" stroke="#000080" stroke-width="2.2"/><path d="M819 1640.1L842.8 1625.3L842.8 1654.9Z" fill="#000080"/><text x="899.6" y="1655.5" font-size="66" letter-spacing="-3.6" style="font-family:'Liberation Sans',Arial,Helvetica,sans-serif">300 K</text></svg>
</body></html>
